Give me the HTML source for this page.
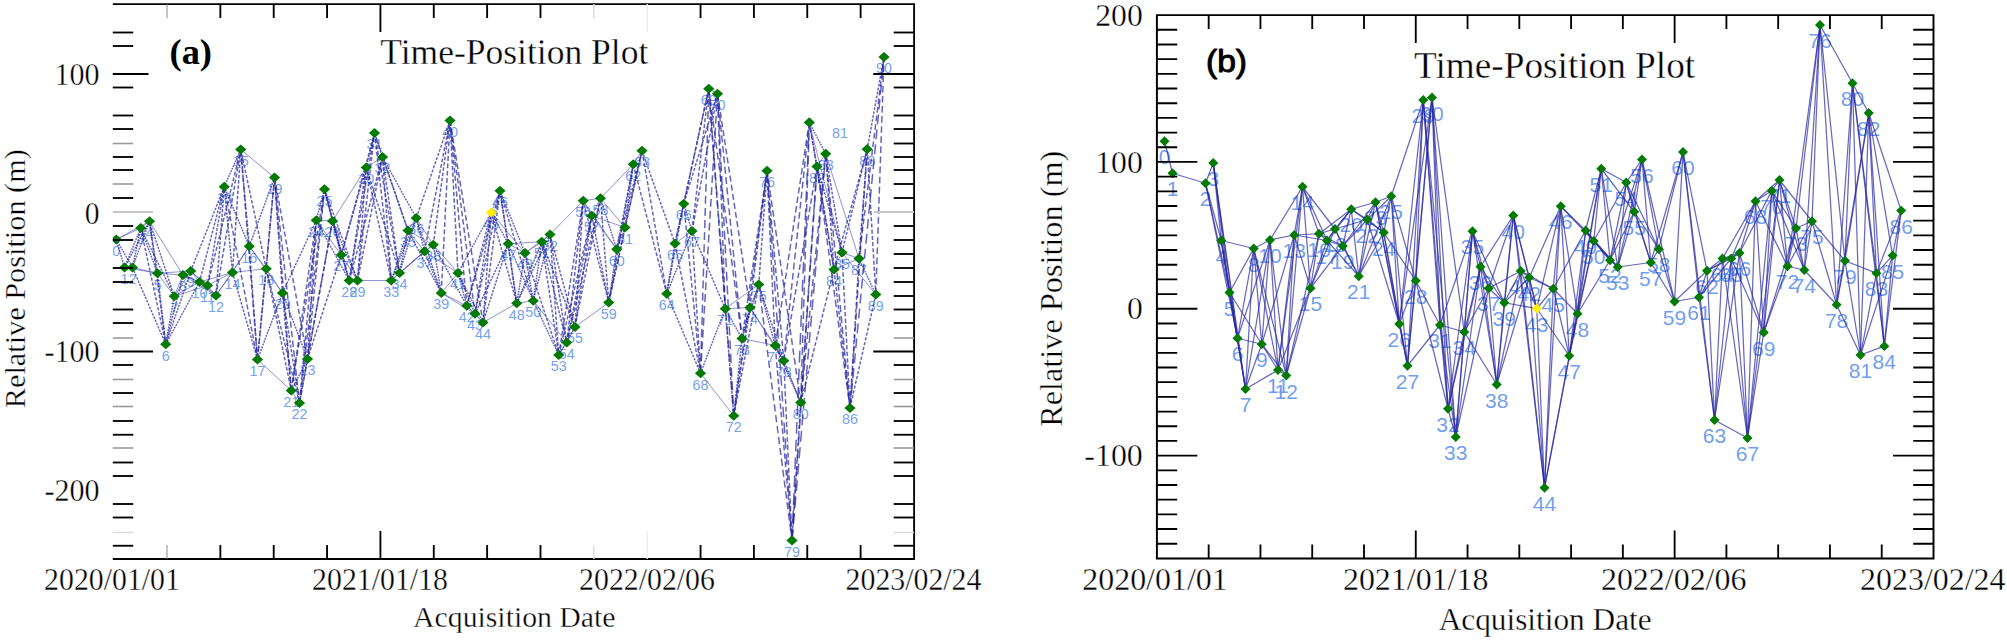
<!DOCTYPE html>
<html lang="en"><head><meta charset="utf-8"><title>Time-Position Plot</title>
<style>html,body{margin:0;padding:0;background:#fff}svg{display:block}.s{font-family:"Liberation Serif","Times New Roman",serif;fill:#000;stroke:#fff;stroke-width:0.35}.n{font-family:"Liberation Sans",Arial,sans-serif;fill:#6495ed}.ax{stroke:#000;stroke-width:1.85;fill:none}.g{stroke:#9a9a9a;stroke-width:1.6}.vg{stroke:#dcdcdc;stroke-width:1.5}.g1{stroke:#8c8c8c;stroke-width:1}.d{fill:#007a00}</style></head><body>
<svg width="2007" height="640" viewBox="0 0 2007 640">
<rect width="2007" height="640" fill="#fff"/>
<g id="panel-a">
<g class="n" font-size="14.3" text-anchor="middle" fill-opacity="0.9">
<text x="116.25" y="255.90">0</text>
<text x="124.5" y="283.90">1</text>
<text x="132.5" y="283.90">2</text>
<text x="140.75" y="244.40">3</text>
<text x="149.5" y="237.65">4</text>
<text x="157.5" y="289.65">5</text>
<text x="165.75" y="360.65">6</text>
<text x="174.25" y="312.65">7</text>
<text x="183" y="291.40">8</text>
<text x="190.75" y="287.40">9</text>
<text x="199.5" y="298.40">10</text>
<text x="207.5" y="301.90">11</text>
<text x="216" y="311.90">12</text>
<text x="224.25" y="203.15">13</text>
<text x="232.5" y="288.90">14</text>
<text x="240.75" y="165.90">15</text>
<text x="249.25" y="262.65">16</text>
<text x="257.5" y="375.90">17</text>
<text x="266.25" y="285.15">18</text>
<text x="274.5" y="193.90">19</text>
<text x="282.5" y="309.40">20</text>
<text x="291.25" y="406.90">21</text>
<text x="299.5" y="419.40">22</text>
<text x="307.5" y="375.40">23</text>
<text x="316.25" y="236.65">24</text>
<text x="324.5" y="205.65">25</text>
<text x="332.5" y="237.40">26</text>
<text x="341.25" y="271.40">27</text>
<text x="349.25" y="296.90">28</text>
<text x="357.5" y="296.90">29</text>
<text x="366.25" y="183.90">30</text>
<text x="374.5" y="149.40">31</text>
<text x="382.5" y="173.40">32</text>
<text x="391.25" y="296.90">33</text>
<text x="399.5" y="289.40">34</text>
<text x="408" y="246.90">35</text>
<text x="416.25" y="234.40">36</text>
<text x="424.5" y="267.65">37</text>
<text x="433.25" y="261.15">38</text>
<text x="441.25" y="309.40">39</text>
<text x="450" y="136.90">40</text>
<text x="458" y="289.40">41</text>
<text x="466.75" y="322.15">42</text>
<text x="475" y="330.15">43</text>
<text x="483" y="338.90">44</text>
<text x="491.25" y="228.90">45</text>
<text x="500" y="207.15">46</text>
<text x="508.25" y="260.15">47</text>
<text x="516.75" y="319.65">48</text>
<text x="525" y="269.40">49</text>
<text x="533.25" y="317.15">50</text>
<text x="541.75" y="258.15">51</text>
<text x="550" y="250.90">52</text>
<text x="558.75" y="371.40">53</text>
<text x="566.75" y="358.90">54</text>
<text x="575" y="343.40">55</text>
<text x="583.25" y="217.15">56</text>
<text x="591.75" y="232.15">57</text>
<text x="600.5" y="214.65">58</text>
<text x="608.75" y="318.90">59</text>
<text x="616.75" y="265.65">60</text>
<text x="625" y="243.90">61</text>
<text x="633.25" y="180.65">62</text>
<text x="642" y="167.15">63</text>
<text x="666.75" y="310.15">64</text>
<text x="675" y="259.90">65</text>
<text x="683.75" y="220.15">66</text>
<text x="692" y="247.40">67</text>
<text x="700.5" y="389.65">68</text>
<text x="708.75" y="105.15">69</text>
<text x="717.5" y="110.15">70</text>
<text x="725.25" y="325.15">71</text>
<text x="733.75" y="432.15">72</text>
<text x="742" y="354.90">73</text>
<text x="750" y="323.90">74</text>
<text x="758.75" y="300.90">75</text>
<text x="767" y="187.15">76</text>
<text x="775.25" y="361.90">77</text>
<text x="783.75" y="377.15">78</text>
<text x="792" y="556.80">79</text>
<text x="800.75" y="418.90">80</text>
<text x="840" y="138">81</text>
<text x="817" y="182.90">82</text>
<text x="825.7" y="170.20">83</text>
<text x="834" y="285.90">84</text>
<text x="842" y="268.90">85</text>
<text x="850" y="424.40">86</text>
<text x="859" y="275.00">87</text>
<text x="867.2" y="165.60">88</text>
<text x="875.8" y="310.90">89</text>
<text x="884" y="73.40">90</text>
</g>
<g stroke="#2828a2" stroke-width="1.35" fill="none" stroke-opacity="0.72">
<line x1="116.25" y1="239.5" x2="124.5" y2="267.5" stroke-width="1.46" stroke-dasharray="1.78 0.92"/>
<line x1="116.25" y1="239.5" x2="132.5" y2="267.5" stroke-width="1.36" stroke-dasharray="1.78 0.92"/>
<line x1="116.25" y1="239.5" x2="140.75" y2="228" stroke-width="1" stroke-opacity="0.5"/>
<line x1="116.25" y1="239.5" x2="149.5" y2="221.25" stroke-width="1" stroke-opacity="0.5"/>
<line x1="124.5" y1="267.5" x2="132.5" y2="267.5" stroke-width="1" stroke-opacity="0.5"/>
<line x1="124.5" y1="267.5" x2="140.75" y2="228" stroke-width="1.42" stroke-dasharray="1.78 0.92"/>
<line x1="124.5" y1="267.5" x2="149.5" y2="221.25" stroke-width="1.38" stroke-dasharray="1.78 0.92"/>
<line x1="124.5" y1="267.5" x2="157.5" y2="273.25" stroke-width="1" stroke-opacity="0.5"/>
<line x1="132.5" y1="267.5" x2="140.75" y2="228" stroke-width="1.48" stroke-dasharray="1.78 0.92"/>
<line x1="132.5" y1="267.5" x2="149.5" y2="221.25" stroke-width="1.43" stroke-dasharray="1.78 0.92"/>
<line x1="132.5" y1="267.5" x2="157.5" y2="273.25" stroke-width="1" stroke-opacity="0.5"/>
<line x1="132.5" y1="267.5" x2="165.75" y2="344.25" stroke-width="1.41" stroke-dasharray="2.35 1.21"/>
<line x1="140.75" y1="228" x2="149.5" y2="221.25" stroke-width="1" stroke-opacity="0.5"/>
<line x1="140.75" y1="228" x2="157.5" y2="273.25" stroke-width="1.43" stroke-dasharray="1.78 0.92"/>
<line x1="140.75" y1="228" x2="165.75" y2="344.25" stroke-width="1.48" stroke-dasharray="3.34 1.72"/>
<line x1="140.75" y1="228" x2="174.25" y2="296.25" stroke-width="1.39" stroke-dasharray="2.14 1.10"/>
<line x1="149.5" y1="221.25" x2="157.5" y2="273.25" stroke-width="1.49" stroke-dasharray="1.78 0.92"/>
<line x1="149.5" y1="221.25" x2="165.75" y2="344.25" stroke-width="1.49" stroke-dasharray="3.48 1.80"/>
<line x1="149.5" y1="221.25" x2="174.25" y2="296.25" stroke-width="1.45" stroke-dasharray="2.22 1.14"/>
<line x1="149.5" y1="221.25" x2="183" y2="275" stroke-width="1" stroke-opacity="0.5"/>
<line x1="157.5" y1="273.25" x2="165.75" y2="344.25" stroke-width="1.49" stroke-dasharray="2.01 1.03"/>
<line x1="157.5" y1="273.25" x2="174.25" y2="296.25" stroke-width="1" stroke-opacity="0.5"/>
<line x1="157.5" y1="273.25" x2="183" y2="275" stroke-width="1" stroke-opacity="0.5"/>
<line x1="157.5" y1="273.25" x2="190.75" y2="271" stroke-width="1" stroke-opacity="0.5"/>
<line x1="165.75" y1="344.25" x2="174.25" y2="296.25" stroke-width="1.48" stroke-dasharray="1.78 0.92"/>
<line x1="165.75" y1="344.25" x2="183" y2="275" stroke-width="1.47" stroke-dasharray="2.00 1.03"/>
<line x1="165.75" y1="344.25" x2="190.75" y2="271" stroke-width="1.44" stroke-dasharray="2.17 1.12"/>
<line x1="165.75" y1="344.25" x2="199.5" y2="282" stroke-width="1.38" stroke-dasharray="1.99 1.02"/>
<line x1="174.25" y1="296.25" x2="183" y2="275" stroke-width="1" stroke-opacity="0.5"/>
<line x1="174.25" y1="296.25" x2="190.75" y2="271" stroke-width="1" stroke-opacity="0.5"/>
<line x1="174.25" y1="296.25" x2="199.5" y2="282" stroke-width="1" stroke-opacity="0.5"/>
<line x1="174.25" y1="296.25" x2="207.5" y2="285.5" stroke-width="1" stroke-opacity="0.5"/>
<line x1="183" y1="275" x2="190.75" y2="271" stroke-width="1" stroke-opacity="0.5"/>
<line x1="183" y1="275" x2="199.5" y2="282" stroke-width="1" stroke-opacity="0.5"/>
<line x1="183" y1="275" x2="207.5" y2="285.5" stroke-width="1" stroke-opacity="0.5"/>
<line x1="183" y1="275" x2="216" y2="295.5" stroke-width="1" stroke-opacity="0.5"/>
<line x1="190.75" y1="271" x2="199.5" y2="282" stroke-width="1" stroke-opacity="0.5"/>
<line x1="190.75" y1="271" x2="207.5" y2="285.5" stroke-width="1" stroke-opacity="0.5"/>
<line x1="190.75" y1="271" x2="216" y2="295.5" stroke-width="1" stroke-opacity="0.5"/>
<line x1="190.75" y1="271" x2="224.25" y2="186.75" stroke-width="1.42" stroke-dasharray="2.55 1.31"/>
<line x1="199.5" y1="282" x2="207.5" y2="285.5" stroke-width="1" stroke-opacity="0.5"/>
<line x1="199.5" y1="282" x2="216" y2="295.5" stroke-width="1" stroke-opacity="0.5"/>
<line x1="199.5" y1="282" x2="224.25" y2="186.75" stroke-width="1.47" stroke-dasharray="2.76 1.42"/>
<line x1="199.5" y1="282" x2="232.5" y2="272.5" stroke-width="1" stroke-opacity="0.5"/>
<line x1="207.5" y1="285.5" x2="216" y2="295.5" stroke-width="1" stroke-opacity="0.5"/>
<line x1="207.5" y1="285.5" x2="224.25" y2="186.75" stroke-width="1.48" stroke-dasharray="2.81 1.45"/>
<line x1="207.5" y1="285.5" x2="232.5" y2="272.5" stroke-width="1" stroke-opacity="0.5"/>
<line x1="207.5" y1="285.5" x2="240.75" y2="149.5" stroke-width="1.47" stroke-dasharray="3.93 2.03"/>
<line x1="216" y1="295.5" x2="224.25" y2="186.75" stroke-width="1.50" stroke-dasharray="3.06 1.58"/>
<line x1="216" y1="295.5" x2="232.5" y2="272.5" stroke-width="1" stroke-opacity="0.5"/>
<line x1="216" y1="295.5" x2="240.75" y2="149.5" stroke-width="1.48" stroke-dasharray="4.16 2.14"/>
<line x1="216" y1="295.5" x2="249.25" y2="246.25" stroke-width="1" stroke-opacity="0.5"/>
<line x1="224.25" y1="186.75" x2="232.5" y2="272.5" stroke-width="1.49" stroke-dasharray="2.42 1.25"/>
<line x1="224.25" y1="186.75" x2="240.75" y2="149.5" stroke-width="1.41" stroke-dasharray="1.78 0.92"/>
<line x1="224.25" y1="186.75" x2="249.25" y2="246.25" stroke-width="1.42" stroke-dasharray="1.81 0.93"/>
<line x1="224.25" y1="186.75" x2="257.5" y2="359.5" stroke-width="1.48" stroke-dasharray="4.94 2.55"/>
<line x1="232.5" y1="272.5" x2="240.75" y2="149.5" stroke-width="1.50" stroke-dasharray="3.46 1.78"/>
<line x1="232.5" y1="272.5" x2="249.25" y2="246.25" stroke-width="1" stroke-opacity="0.5"/>
<line x1="232.5" y1="272.5" x2="257.5" y2="359.5" stroke-width="1.46" stroke-dasharray="2.54 1.31"/>
<line x1="232.5" y1="272.5" x2="266.25" y2="268.75" stroke-width="1" stroke-opacity="0.5"/>
<line x1="240.75" y1="149.5" x2="249.25" y2="246.25" stroke-width="1.50" stroke-dasharray="2.73 1.41"/>
<line x1="240.75" y1="149.5" x2="257.5" y2="359.5" stroke-width="1.50" stroke-dasharray="5.92 3.05"/>
<line x1="240.75" y1="149.5" x2="266.25" y2="268.75" stroke-width="1.48" stroke-dasharray="3.42 1.76"/>
<line x1="240.75" y1="149.5" x2="274.5" y2="177.5" stroke-width="1" stroke-opacity="0.5"/>
<line x1="249.25" y1="246.25" x2="257.5" y2="359.5" stroke-width="1.50" stroke-dasharray="3.19 1.64"/>
<line x1="249.25" y1="246.25" x2="266.25" y2="268.75" stroke-width="1" stroke-opacity="0.5"/>
<line x1="249.25" y1="246.25" x2="274.5" y2="177.5" stroke-width="1.43" stroke-dasharray="2.06 1.06"/>
<line x1="249.25" y1="246.25" x2="282.5" y2="293" stroke-width="1" stroke-opacity="0.5"/>
<line x1="257.5" y1="359.5" x2="266.25" y2="268.75" stroke-width="1.49" stroke-dasharray="2.56 1.32"/>
<line x1="257.5" y1="359.5" x2="274.5" y2="177.5" stroke-width="1.50" stroke-dasharray="5.13 2.64"/>
<line x1="257.5" y1="359.5" x2="282.5" y2="293" stroke-width="1.43" stroke-dasharray="2.00 1.03"/>
<line x1="257.5" y1="359.5" x2="291.25" y2="390.5" stroke-width="1" stroke-opacity="0.5"/>
<line x1="266.25" y1="268.75" x2="274.5" y2="177.5" stroke-width="1.50" stroke-dasharray="2.57 1.33"/>
<line x1="266.25" y1="268.75" x2="282.5" y2="293" stroke-width="1" stroke-opacity="0.5"/>
<line x1="266.25" y1="268.75" x2="291.25" y2="390.5" stroke-width="1.48" stroke-dasharray="3.49 1.80"/>
<line x1="266.25" y1="268.75" x2="299.5" y2="403" stroke-width="1.47" stroke-dasharray="3.88 2.00"/>
<line x1="274.5" y1="177.5" x2="282.5" y2="293" stroke-width="1.50" stroke-dasharray="3.25 1.68"/>
<line x1="274.5" y1="177.5" x2="291.25" y2="390.5" stroke-width="1.50" stroke-dasharray="6.00 3.09"/>
<line x1="274.5" y1="177.5" x2="299.5" y2="403" stroke-width="1.49" stroke-dasharray="6.37 3.28"/>
<line x1="274.5" y1="177.5" x2="307.5" y2="359" stroke-width="1.48" stroke-dasharray="5.18 2.67"/>
<line x1="282.5" y1="293" x2="291.25" y2="390.5" stroke-width="1.50" stroke-dasharray="2.75 1.42"/>
<line x1="282.5" y1="293" x2="299.5" y2="403" stroke-width="1.49" stroke-dasharray="3.13 1.61"/>
<line x1="282.5" y1="293" x2="307.5" y2="359" stroke-width="1.43" stroke-dasharray="1.98 1.02"/>
<line x1="282.5" y1="293" x2="316.25" y2="220.25" stroke-width="1.40" stroke-dasharray="2.25 1.16"/>
<line x1="291.25" y1="390.5" x2="299.5" y2="403" stroke-width="1" stroke-opacity="0.5"/>
<line x1="291.25" y1="390.5" x2="307.5" y2="359" stroke-width="1.38" stroke-dasharray="1.78 0.92"/>
<line x1="291.25" y1="390.5" x2="316.25" y2="220.25" stroke-width="1.49" stroke-dasharray="4.83 2.49"/>
<line x1="291.25" y1="390.5" x2="324.5" y2="189.25" stroke-width="1.49" stroke-dasharray="5.73 2.95"/>
<line x1="299.5" y1="403" x2="307.5" y2="359" stroke-width="1.48" stroke-dasharray="1.78 0.92"/>
<line x1="299.5" y1="403" x2="316.25" y2="220.25" stroke-width="1.50" stroke-dasharray="5.15 2.66"/>
<line x1="299.5" y1="403" x2="324.5" y2="189.25" stroke-width="1.49" stroke-dasharray="6.04 3.11"/>
<line x1="299.5" y1="403" x2="332.5" y2="221" stroke-width="1.48" stroke-dasharray="5.19 2.68"/>
<line x1="307.5" y1="359" x2="316.25" y2="220.25" stroke-width="1.50" stroke-dasharray="3.90 2.01"/>
<line x1="307.5" y1="359" x2="324.5" y2="189.25" stroke-width="1.49" stroke-dasharray="4.79 2.47"/>
<line x1="307.5" y1="359" x2="332.5" y2="221" stroke-width="1.48" stroke-dasharray="3.94 2.03"/>
<line x1="307.5" y1="359" x2="341.25" y2="255" stroke-width="1.45" stroke-dasharray="3.07 1.58"/>
<line x1="316.25" y1="220.25" x2="324.5" y2="189.25" stroke-width="1.46" stroke-dasharray="1.78 0.92"/>
<line x1="316.25" y1="220.25" x2="332.5" y2="221" stroke-width="1" stroke-opacity="0.5"/>
<line x1="316.25" y1="220.25" x2="341.25" y2="255" stroke-width="1" stroke-opacity="0.5"/>
<line x1="316.25" y1="220.25" x2="349.25" y2="280.5" stroke-width="1.37" stroke-dasharray="1.93 0.99"/>
<line x1="324.5" y1="189.25" x2="332.5" y2="221" stroke-width="1.47" stroke-dasharray="1.78 0.92"/>
<line x1="324.5" y1="189.25" x2="341.25" y2="255" stroke-width="1.47" stroke-dasharray="1.91 0.98"/>
<line x1="324.5" y1="189.25" x2="349.25" y2="280.5" stroke-width="1.46" stroke-dasharray="2.66 1.37"/>
<line x1="324.5" y1="189.25" x2="357.5" y2="280.5" stroke-width="1.44" stroke-dasharray="2.73 1.40"/>
<line x1="332.5" y1="221" x2="341.25" y2="255" stroke-width="1.47" stroke-dasharray="1.78 0.92"/>
<line x1="332.5" y1="221" x2="349.25" y2="280.5" stroke-width="1.46" stroke-dasharray="1.78 0.92"/>
<line x1="332.5" y1="221" x2="357.5" y2="280.5" stroke-width="1.42" stroke-dasharray="1.81 0.93"/>
<line x1="332.5" y1="221" x2="366.25" y2="167.5" stroke-width="1" stroke-opacity="0.5"/>
<line x1="341.25" y1="255" x2="349.25" y2="280.5" stroke-width="1" stroke-opacity="0.5"/>
<line x1="341.25" y1="255" x2="357.5" y2="280.5" stroke-width="1" stroke-opacity="0.5"/>
<line x1="341.25" y1="255" x2="366.25" y2="167.5" stroke-width="1.46" stroke-dasharray="2.56 1.32"/>
<line x1="341.25" y1="255" x2="374.5" y2="133" stroke-width="1.46" stroke-dasharray="3.55 1.83"/>
<line x1="349.25" y1="280.5" x2="357.5" y2="280.5" stroke-width="1" stroke-opacity="0.5"/>
<line x1="349.25" y1="280.5" x2="366.25" y2="167.5" stroke-width="1.49" stroke-dasharray="3.21 1.65"/>
<line x1="349.25" y1="280.5" x2="374.5" y2="133" stroke-width="1.48" stroke-dasharray="4.20 2.17"/>
<line x1="349.25" y1="280.5" x2="382.5" y2="157" stroke-width="1.46" stroke-dasharray="3.59 1.85"/>
<line x1="357.5" y1="280.5" x2="366.25" y2="167.5" stroke-width="1.50" stroke-dasharray="3.18 1.64"/>
<line x1="357.5" y1="280.5" x2="374.5" y2="133" stroke-width="1.49" stroke-dasharray="4.17 2.15"/>
<line x1="357.5" y1="280.5" x2="382.5" y2="157" stroke-width="1.48" stroke-dasharray="3.54 1.82"/>
<line x1="357.5" y1="280.5" x2="391.25" y2="280.5" stroke-width="1" stroke-opacity="0.5"/>
<line x1="366.25" y1="167.5" x2="374.5" y2="133" stroke-width="1.47" stroke-dasharray="1.78 0.92"/>
<line x1="366.25" y1="167.5" x2="382.5" y2="157" stroke-width="1" stroke-opacity="0.5"/>
<line x1="366.25" y1="167.5" x2="391.25" y2="280.5" stroke-width="1.47" stroke-dasharray="3.25 1.67"/>
<line x1="366.25" y1="167.5" x2="399.5" y2="273" stroke-width="1.45" stroke-dasharray="3.11 1.60"/>
<line x1="374.5" y1="133" x2="382.5" y2="157" stroke-width="1" stroke-opacity="0.5"/>
<line x1="374.5" y1="133" x2="391.25" y2="280.5" stroke-width="1.49" stroke-dasharray="4.17 2.15"/>
<line x1="374.5" y1="133" x2="399.5" y2="273" stroke-width="1.48" stroke-dasharray="3.99 2.06"/>
<line x1="374.5" y1="133" x2="408" y2="230.5" stroke-width="1.44" stroke-dasharray="2.90 1.49"/>
<line x1="382.5" y1="157" x2="391.25" y2="280.5" stroke-width="1.50" stroke-dasharray="3.48 1.79"/>
<line x1="382.5" y1="157" x2="399.5" y2="273" stroke-width="1.49" stroke-dasharray="3.29 1.70"/>
<line x1="382.5" y1="157" x2="408" y2="230.5" stroke-width="1.44" stroke-dasharray="2.18 1.13"/>
<line x1="382.5" y1="157" x2="416.25" y2="218" stroke-width="1.37" stroke-dasharray="1.96 1.01"/>
<line x1="391.25" y1="280.5" x2="399.5" y2="273" stroke-width="1" stroke-opacity="0.5"/>
<line x1="391.25" y1="280.5" x2="408" y2="230.5" stroke-width="1.44" stroke-dasharray="1.78 0.92"/>
<line x1="391.25" y1="280.5" x2="416.25" y2="218" stroke-width="1.42" stroke-dasharray="1.89 0.97"/>
<line x1="391.25" y1="280.5" x2="424.5" y2="251.25" stroke-width="1" stroke-opacity="0.5"/>
<line x1="399.5" y1="273" x2="408" y2="230.5" stroke-width="1.48" stroke-dasharray="1.78 0.92"/>
<line x1="399.5" y1="273" x2="416.25" y2="218" stroke-width="1.45" stroke-dasharray="1.78 0.92"/>
<line x1="399.5" y1="273" x2="424.5" y2="251.25" stroke-width="1" stroke-opacity="0.5"/>
<line x1="399.5" y1="273" x2="433.25" y2="244.75" stroke-width="1" stroke-opacity="0.5"/>
<line x1="408" y1="230.5" x2="416.25" y2="218" stroke-width="1" stroke-opacity="0.5"/>
<line x1="408" y1="230.5" x2="424.5" y2="251.25" stroke-width="1" stroke-opacity="0.5"/>
<line x1="408" y1="230.5" x2="433.25" y2="244.75" stroke-width="1" stroke-opacity="0.5"/>
<line x1="408" y1="230.5" x2="441.25" y2="293" stroke-width="1.38" stroke-dasharray="1.99 1.02"/>
<line x1="416.25" y1="218" x2="424.5" y2="251.25" stroke-width="1.47" stroke-dasharray="1.78 0.92"/>
<line x1="416.25" y1="218" x2="433.25" y2="244.75" stroke-width="1" stroke-opacity="0.5"/>
<line x1="416.25" y1="218" x2="441.25" y2="293" stroke-width="1.44" stroke-dasharray="2.22 1.14"/>
<line x1="416.25" y1="218" x2="450" y2="120.5" stroke-width="1.44" stroke-dasharray="2.90 1.49"/>
<line x1="424.5" y1="251.25" x2="433.25" y2="244.75" stroke-width="1" stroke-opacity="0.5"/>
<line x1="424.5" y1="251.25" x2="441.25" y2="293" stroke-width="1.42" stroke-dasharray="1.78 0.92"/>
<line x1="424.5" y1="251.25" x2="450" y2="120.5" stroke-width="1.48" stroke-dasharray="3.74 1.93"/>
<line x1="424.5" y1="251.25" x2="458" y2="273" stroke-width="1" stroke-opacity="0.5"/>
<line x1="433.25" y1="244.75" x2="441.25" y2="293" stroke-width="1.49" stroke-dasharray="1.78 0.92"/>
<line x1="433.25" y1="244.75" x2="450" y2="120.5" stroke-width="1.49" stroke-dasharray="3.52 1.81"/>
<line x1="433.25" y1="244.75" x2="458" y2="273" stroke-width="1" stroke-opacity="0.5"/>
<line x1="433.25" y1="244.75" x2="466.75" y2="305.75" stroke-width="1.37" stroke-dasharray="1.95 1.01"/>
<line x1="441.25" y1="293" x2="450" y2="120.5" stroke-width="1.50" stroke-dasharray="4.85 2.50"/>
<line x1="441.25" y1="293" x2="458" y2="273" stroke-width="1" stroke-opacity="0.5"/>
<line x1="441.25" y1="293" x2="466.75" y2="305.75" stroke-width="1" stroke-opacity="0.5"/>
<line x1="441.25" y1="293" x2="475" y2="313.75" stroke-width="1" stroke-opacity="0.5"/>
<line x1="450" y1="120.5" x2="458" y2="273" stroke-width="1.50" stroke-dasharray="4.29 2.21"/>
<line x1="450" y1="120.5" x2="466.75" y2="305.75" stroke-width="1.50" stroke-dasharray="5.22 2.69"/>
<line x1="450" y1="120.5" x2="475" y2="313.75" stroke-width="1.49" stroke-dasharray="5.47 2.82"/>
<line x1="450" y1="120.5" x2="483" y2="322.5" stroke-width="1.49" stroke-dasharray="5.75 2.96"/>
<line x1="458" y1="273" x2="466.75" y2="305.75" stroke-width="1.46" stroke-dasharray="1.78 0.92"/>
<line x1="458" y1="273" x2="475" y2="313.75" stroke-width="1.42" stroke-dasharray="1.78 0.92"/>
<line x1="458" y1="273" x2="483" y2="322.5" stroke-width="1.39" stroke-dasharray="1.78 0.92"/>
<line x1="458" y1="273" x2="491.25" y2="212.5" stroke-width="1.37" stroke-dasharray="1.94 1.00"/>
<line x1="466.75" y1="305.75" x2="475" y2="313.75" stroke-width="1" stroke-opacity="0.5"/>
<line x1="466.75" y1="305.75" x2="483" y2="322.5" stroke-width="1" stroke-opacity="0.5"/>
<line x1="466.75" y1="305.75" x2="491.25" y2="212.5" stroke-width="1.46" stroke-dasharray="2.71 1.39"/>
<line x1="466.75" y1="305.75" x2="500" y2="190.75" stroke-width="1.46" stroke-dasharray="3.36 1.73"/>
<line x1="475" y1="313.75" x2="483" y2="322.5" stroke-width="1" stroke-opacity="0.5"/>
<line x1="475" y1="313.75" x2="491.25" y2="212.5" stroke-width="1.49" stroke-dasharray="2.88 1.48"/>
<line x1="475" y1="313.75" x2="500" y2="190.75" stroke-width="1.48" stroke-dasharray="3.53 1.82"/>
<line x1="475" y1="313.75" x2="508.25" y2="243.75" stroke-width="1.40" stroke-dasharray="2.18 1.12"/>
<line x1="483" y1="322.5" x2="491.25" y2="212.5" stroke-width="1.50" stroke-dasharray="3.10 1.60"/>
<line x1="483" y1="322.5" x2="500" y2="190.75" stroke-width="1.49" stroke-dasharray="3.73 1.92"/>
<line x1="483" y1="322.5" x2="508.25" y2="243.75" stroke-width="1.45" stroke-dasharray="2.32 1.20"/>
<line x1="483" y1="322.5" x2="516.75" y2="303.25" stroke-width="1" stroke-opacity="0.5"/>
<line x1="491.25" y1="212.5" x2="500" y2="190.75" stroke-width="1" stroke-opacity="0.5"/>
<line x1="491.25" y1="212.5" x2="508.25" y2="243.75" stroke-width="1.37" stroke-dasharray="1.78 0.92"/>
<line x1="491.25" y1="212.5" x2="516.75" y2="303.25" stroke-width="1.46" stroke-dasharray="2.65 1.36"/>
<line x1="491.25" y1="212.5" x2="525" y2="253" stroke-width="1" stroke-opacity="0.5"/>
<line x1="500" y1="190.75" x2="508.25" y2="243.75" stroke-width="1.49" stroke-dasharray="1.78 0.92"/>
<line x1="500" y1="190.75" x2="516.75" y2="303.25" stroke-width="1.49" stroke-dasharray="3.19 1.65"/>
<line x1="500" y1="190.75" x2="525" y2="253" stroke-width="1.42" stroke-dasharray="1.88 0.97"/>
<line x1="500" y1="190.75" x2="533.25" y2="300.75" stroke-width="1.45" stroke-dasharray="3.23 1.66"/>
<line x1="508.25" y1="243.75" x2="516.75" y2="303.25" stroke-width="1.49" stroke-dasharray="1.78 0.92"/>
<line x1="508.25" y1="243.75" x2="525" y2="253" stroke-width="1" stroke-opacity="0.5"/>
<line x1="508.25" y1="243.75" x2="533.25" y2="300.75" stroke-width="1.41" stroke-dasharray="1.78 0.92"/>
<line x1="508.25" y1="243.75" x2="541.75" y2="241.75" stroke-width="1" stroke-opacity="0.5"/>
<line x1="516.75" y1="303.25" x2="525" y2="253" stroke-width="1.49" stroke-dasharray="1.78 0.92"/>
<line x1="516.75" y1="303.25" x2="533.25" y2="300.75" stroke-width="1" stroke-opacity="0.5"/>
<line x1="516.75" y1="303.25" x2="541.75" y2="241.75" stroke-width="1.42" stroke-dasharray="1.86 0.96"/>
<line x1="516.75" y1="303.25" x2="550" y2="234.5" stroke-width="1.40" stroke-dasharray="2.14 1.10"/>
<line x1="525" y1="253" x2="533.25" y2="300.75" stroke-width="1.48" stroke-dasharray="1.78 0.92"/>
<line x1="525" y1="253" x2="541.75" y2="241.75" stroke-width="1" stroke-opacity="0.5"/>
<line x1="525" y1="253" x2="550" y2="234.5" stroke-width="1" stroke-opacity="0.5"/>
<line x1="525" y1="253" x2="558.75" y2="355" stroke-width="1.45" stroke-dasharray="3.02 1.55"/>
<line x1="533.25" y1="300.75" x2="541.75" y2="241.75" stroke-width="1.49" stroke-dasharray="1.78 0.92"/>
<line x1="533.25" y1="300.75" x2="550" y2="234.5" stroke-width="1.47" stroke-dasharray="1.92 0.99"/>
<line x1="533.25" y1="300.75" x2="558.75" y2="355" stroke-width="1.40" stroke-dasharray="1.78 0.92"/>
<line x1="533.25" y1="300.75" x2="566.75" y2="342.5" stroke-width="1" stroke-opacity="0.5"/>
<line x1="541.75" y1="241.75" x2="550" y2="234.5" stroke-width="1" stroke-opacity="0.5"/>
<line x1="541.75" y1="241.75" x2="558.75" y2="355" stroke-width="1.49" stroke-dasharray="3.22 1.66"/>
<line x1="541.75" y1="241.75" x2="566.75" y2="342.5" stroke-width="1.47" stroke-dasharray="2.92 1.50"/>
<line x1="541.75" y1="241.75" x2="575" y2="327" stroke-width="1.43" stroke-dasharray="2.57 1.32"/>
<line x1="550" y1="234.5" x2="558.75" y2="355" stroke-width="1.50" stroke-dasharray="3.39 1.75"/>
<line x1="550" y1="234.5" x2="566.75" y2="342.5" stroke-width="1.49" stroke-dasharray="3.07 1.58"/>
<line x1="550" y1="234.5" x2="575" y2="327" stroke-width="1.46" stroke-dasharray="2.69 1.39"/>
<line x1="550" y1="234.5" x2="583.25" y2="200.75" stroke-width="1" stroke-opacity="0.5"/>
<line x1="558.75" y1="355" x2="566.75" y2="342.5" stroke-width="1" stroke-opacity="0.5"/>
<line x1="558.75" y1="355" x2="575" y2="327" stroke-width="1.36" stroke-dasharray="1.78 0.92"/>
<line x1="558.75" y1="355" x2="583.25" y2="200.75" stroke-width="1.49" stroke-dasharray="4.39 2.26"/>
<line x1="558.75" y1="355" x2="591.75" y2="215.75" stroke-width="1.47" stroke-dasharray="4.02 2.07"/>
<line x1="566.75" y1="342.5" x2="575" y2="327" stroke-width="1" stroke-opacity="0.5"/>
<line x1="566.75" y1="342.5" x2="583.25" y2="200.75" stroke-width="1.49" stroke-dasharray="4.01 2.06"/>
<line x1="566.75" y1="342.5" x2="591.75" y2="215.75" stroke-width="1.48" stroke-dasharray="3.63 1.87"/>
<line x1="566.75" y1="342.5" x2="600.5" y2="198.25" stroke-width="1.47" stroke-dasharray="4.16 2.14"/>
<line x1="575" y1="327" x2="583.25" y2="200.75" stroke-width="1.50" stroke-dasharray="3.55 1.83"/>
<line x1="575" y1="327" x2="591.75" y2="215.75" stroke-width="1.49" stroke-dasharray="3.16 1.63"/>
<line x1="575" y1="327" x2="600.5" y2="198.25" stroke-width="1.48" stroke-dasharray="3.69 1.90"/>
<line x1="575" y1="327" x2="608.75" y2="302.5" stroke-width="1" stroke-opacity="0.5"/>
<line x1="583.25" y1="200.75" x2="591.75" y2="215.75" stroke-width="1" stroke-opacity="0.5"/>
<line x1="583.25" y1="200.75" x2="600.5" y2="198.25" stroke-width="1" stroke-opacity="0.5"/>
<line x1="583.25" y1="200.75" x2="608.75" y2="302.5" stroke-width="1.47" stroke-dasharray="2.95 1.52"/>
<line x1="583.25" y1="200.75" x2="616.75" y2="249.25" stroke-width="1" stroke-opacity="0.5"/>
<line x1="591.75" y1="215.75" x2="600.5" y2="198.25" stroke-width="1" stroke-opacity="0.5"/>
<line x1="591.75" y1="215.75" x2="608.75" y2="302.5" stroke-width="1.48" stroke-dasharray="2.48 1.28"/>
<line x1="591.75" y1="215.75" x2="616.75" y2="249.25" stroke-width="1" stroke-opacity="0.5"/>
<line x1="591.75" y1="215.75" x2="625" y2="227.5" stroke-width="1" stroke-opacity="0.5"/>
<line x1="600.5" y1="198.25" x2="608.75" y2="302.5" stroke-width="1.50" stroke-dasharray="2.94 1.51"/>
<line x1="600.5" y1="198.25" x2="616.75" y2="249.25" stroke-width="1.45" stroke-dasharray="1.78 0.92"/>
<line x1="600.5" y1="198.25" x2="625" y2="227.5" stroke-width="1" stroke-opacity="0.5"/>
<line x1="600.5" y1="198.25" x2="633.25" y2="164.25" stroke-width="1" stroke-opacity="0.5"/>
<line x1="608.75" y1="302.5" x2="616.75" y2="249.25" stroke-width="1.49" stroke-dasharray="1.78 0.92"/>
<line x1="608.75" y1="302.5" x2="625" y2="227.5" stroke-width="1.48" stroke-dasharray="2.16 1.11"/>
<line x1="608.75" y1="302.5" x2="633.25" y2="164.25" stroke-width="1.48" stroke-dasharray="3.94 2.03"/>
<line x1="608.75" y1="302.5" x2="642" y2="150.75" stroke-width="1.47" stroke-dasharray="4.36 2.25"/>
<line x1="616.75" y1="249.25" x2="625" y2="227.5" stroke-width="1" stroke-opacity="0.5"/>
<line x1="616.75" y1="249.25" x2="633.25" y2="164.25" stroke-width="1.48" stroke-dasharray="2.43 1.25"/>
<line x1="616.75" y1="249.25" x2="642" y2="150.75" stroke-width="1.47" stroke-dasharray="2.86 1.47"/>
<line x1="625" y1="227.5" x2="633.25" y2="164.25" stroke-width="1.49" stroke-dasharray="1.79 0.92"/>
<line x1="625" y1="227.5" x2="642" y2="150.75" stroke-width="1.47" stroke-dasharray="2.21 1.14"/>
<line x1="633.25" y1="164.25" x2="642" y2="150.75" stroke-width="1" stroke-opacity="0.5"/>
<line x1="633.25" y1="164.25" x2="666.75" y2="293.75" stroke-width="1.47" stroke-dasharray="3.76 1.94"/>
<line x1="642" y1="150.75" x2="666.75" y2="293.75" stroke-width="1.48" stroke-dasharray="4.08 2.10"/>
<line x1="642" y1="150.75" x2="675" y2="243.5" stroke-width="1.44" stroke-dasharray="2.76 1.42"/>
<line x1="666.75" y1="293.75" x2="675" y2="243.5" stroke-width="1.49" stroke-dasharray="1.78 0.92"/>
<line x1="666.75" y1="293.75" x2="683.75" y2="203.75" stroke-width="1.48" stroke-dasharray="2.57 1.33"/>
<line x1="666.75" y1="293.75" x2="692" y2="231" stroke-width="1.42" stroke-dasharray="1.90 0.98"/>
<line x1="666.75" y1="293.75" x2="700.5" y2="373.25" stroke-width="1.42" stroke-dasharray="2.43 1.25"/>
<line x1="675" y1="243.5" x2="683.75" y2="203.75" stroke-width="1.47" stroke-dasharray="1.78 0.92"/>
<line x1="675" y1="243.5" x2="692" y2="231" stroke-width="1" stroke-opacity="0.5"/>
<line x1="675" y1="243.5" x2="700.5" y2="373.25" stroke-width="1.48" stroke-dasharray="3.71 1.91"/>
<line x1="675" y1="243.5" x2="708.75" y2="88.75" stroke-width="1.48" stroke-dasharray="4.45 2.29"/>
<line x1="683.75" y1="203.75" x2="692" y2="231" stroke-width="1.45" stroke-dasharray="1.78 0.92"/>
<line x1="683.75" y1="203.75" x2="700.5" y2="373.25" stroke-width="1.49" stroke-dasharray="4.78 2.46"/>
<line x1="683.75" y1="203.75" x2="708.75" y2="88.75" stroke-width="1.48" stroke-dasharray="3.31 1.70"/>
<line x1="683.75" y1="203.75" x2="717.5" y2="93.75" stroke-width="1.45" stroke-dasharray="3.23 1.66"/>
<line x1="692" y1="231" x2="700.5" y2="373.25" stroke-width="1.50" stroke-dasharray="4.00 2.06"/>
<line x1="692" y1="231" x2="708.75" y2="88.75" stroke-width="1.49" stroke-dasharray="4.02 2.07"/>
<line x1="692" y1="231" x2="717.5" y2="93.75" stroke-width="1.48" stroke-dasharray="3.92 2.02"/>
<line x1="692" y1="231" x2="725.25" y2="308.75" stroke-width="1.41" stroke-dasharray="2.37 1.22"/>
<line x1="700.5" y1="373.25" x2="708.75" y2="88.75" stroke-width="1.50" stroke-dasharray="7.99 4.12"/>
<line x1="700.5" y1="373.25" x2="717.5" y2="93.75" stroke-width="1.50" stroke-dasharray="7.86 4.05"/>
<line x1="700.5" y1="373.25" x2="725.25" y2="308.75" stroke-width="1.43" stroke-dasharray="1.94 1.00"/>
<line x1="700.5" y1="373.25" x2="733.75" y2="415.75" stroke-width="1" stroke-opacity="0.5"/>
<line x1="708.75" y1="88.75" x2="717.5" y2="93.75" stroke-width="1" stroke-opacity="0.5"/>
<line x1="708.75" y1="88.75" x2="725.25" y2="308.75" stroke-width="1.50" stroke-dasharray="6.20 3.19"/>
<line x1="708.75" y1="88.75" x2="733.75" y2="415.75" stroke-width="1.50" stroke-dasharray="9.21 4.74"/>
<line x1="708.75" y1="88.75" x2="742" y2="338.5" stroke-width="1.49" stroke-dasharray="7.08 3.65"/>
<line x1="717.5" y1="93.75" x2="725.25" y2="308.75" stroke-width="1.50" stroke-dasharray="6.04 3.11"/>
<line x1="717.5" y1="93.75" x2="733.75" y2="415.75" stroke-width="1.50" stroke-dasharray="9.05 4.66"/>
<line x1="717.5" y1="93.75" x2="742" y2="338.5" stroke-width="1.49" stroke-dasharray="6.91 3.56"/>
<line x1="717.5" y1="93.75" x2="750" y2="307.5" stroke-width="1.49" stroke-dasharray="6.07 3.13"/>
<line x1="725.25" y1="308.75" x2="733.75" y2="415.75" stroke-width="1.50" stroke-dasharray="3.01 1.55"/>
<line x1="725.25" y1="308.75" x2="742" y2="338.5" stroke-width="1.37" stroke-dasharray="1.78 0.92"/>
<line x1="725.25" y1="308.75" x2="750" y2="307.5" stroke-width="1" stroke-opacity="0.5"/>
<line x1="725.25" y1="308.75" x2="758.75" y2="284.5" stroke-width="1" stroke-opacity="0.5"/>
<line x1="733.75" y1="415.75" x2="742" y2="338.5" stroke-width="1.49" stroke-dasharray="2.18 1.12"/>
<line x1="733.75" y1="415.75" x2="750" y2="307.5" stroke-width="1.49" stroke-dasharray="3.07 1.58"/>
<line x1="733.75" y1="415.75" x2="758.75" y2="284.5" stroke-width="1.48" stroke-dasharray="3.75 1.93"/>
<line x1="733.75" y1="415.75" x2="767" y2="170.75" stroke-width="1.49" stroke-dasharray="6.94 3.58"/>
<line x1="742" y1="338.5" x2="750" y2="307.5" stroke-width="1.47" stroke-dasharray="1.78 0.92"/>
<line x1="742" y1="338.5" x2="758.75" y2="284.5" stroke-width="1.45" stroke-dasharray="1.78 0.92"/>
<line x1="742" y1="338.5" x2="767" y2="170.75" stroke-width="1.49" stroke-dasharray="4.76 2.45"/>
<line x1="742" y1="338.5" x2="775.25" y2="345.5" stroke-width="1" stroke-opacity="0.5"/>
<line x1="750" y1="307.5" x2="758.75" y2="284.5" stroke-width="1" stroke-opacity="0.5"/>
<line x1="750" y1="307.5" x2="767" y2="170.75" stroke-width="1.49" stroke-dasharray="3.87 1.99"/>
<line x1="750" y1="307.5" x2="775.25" y2="345.5" stroke-width="1" stroke-opacity="0.5"/>
<line x1="750" y1="307.5" x2="783.75" y2="360.75" stroke-width="1" stroke-opacity="0.5"/>
<line x1="758.75" y1="284.5" x2="767" y2="170.75" stroke-width="1.50" stroke-dasharray="3.20 1.65"/>
<line x1="758.75" y1="284.5" x2="775.25" y2="345.5" stroke-width="1.46" stroke-dasharray="1.78 0.92"/>
<line x1="758.75" y1="284.5" x2="783.75" y2="360.75" stroke-width="1.45" stroke-dasharray="2.25 1.16"/>
<line x1="758.75" y1="284.5" x2="792" y2="540.4" stroke-width="1.49" stroke-dasharray="7.25 3.73"/>
<line x1="767" y1="170.75" x2="775.25" y2="345.5" stroke-width="1.50" stroke-dasharray="4.91 2.53"/>
<line x1="767" y1="170.75" x2="783.75" y2="360.75" stroke-width="1.50" stroke-dasharray="5.36 2.76"/>
<line x1="767" y1="170.75" x2="792" y2="540.4" stroke-width="1.50" stroke-dasharray="10.41 5.36"/>
<line x1="767" y1="170.75" x2="800.75" y2="402.5" stroke-width="1.49" stroke-dasharray="6.58 3.39"/>
<line x1="775.25" y1="345.5" x2="783.75" y2="360.75" stroke-width="1" stroke-opacity="0.5"/>
<line x1="775.25" y1="345.5" x2="792" y2="540.4" stroke-width="1.50" stroke-dasharray="5.49 2.83"/>
<line x1="775.25" y1="345.5" x2="800.75" y2="402.5" stroke-width="1.41" stroke-dasharray="1.78 0.92"/>
<line x1="775.25" y1="345.5" x2="809.3" y2="122.4" stroke-width="1.49" stroke-dasharray="6.34 3.27"/>
<line x1="783.75" y1="360.75" x2="792" y2="540.4" stroke-width="1.50" stroke-dasharray="5.05 2.60"/>
<line x1="783.75" y1="360.75" x2="800.75" y2="402.5" stroke-width="1.42" stroke-dasharray="1.78 0.92"/>
<line x1="783.75" y1="360.75" x2="809.3" y2="122.4" stroke-width="1.49" stroke-dasharray="6.73 3.47"/>
<line x1="783.75" y1="360.75" x2="817" y2="166.5" stroke-width="1.48" stroke-dasharray="5.53 2.85"/>
<line x1="792" y1="540.4" x2="800.75" y2="402.5" stroke-width="1.50" stroke-dasharray="3.88 2.00"/>
<line x1="792" y1="540.4" x2="809.3" y2="122.4" stroke-width="1.50" stroke-dasharray="11.75 6.05"/>
<line x1="792" y1="540.4" x2="817" y2="166.5" stroke-width="1.50" stroke-dasharray="10.52 5.42"/>
<line x1="792" y1="540.4" x2="825.7" y2="153.8" stroke-width="1.50" stroke-dasharray="10.90 5.61"/>
<line x1="800.75" y1="402.5" x2="809.3" y2="122.4" stroke-width="1.50" stroke-dasharray="7.87 4.05"/>
<line x1="800.75" y1="402.5" x2="817" y2="166.5" stroke-width="1.50" stroke-dasharray="6.64 3.42"/>
<line x1="800.75" y1="402.5" x2="825.7" y2="153.8" stroke-width="1.49" stroke-dasharray="7.02 3.62"/>
<line x1="800.75" y1="402.5" x2="834" y2="269.5" stroke-width="1.47" stroke-dasharray="3.85 1.98"/>
<line x1="809.3" y1="122.4" x2="817" y2="166.5" stroke-width="1.48" stroke-dasharray="1.78 0.92"/>
<line x1="809.3" y1="122.4" x2="825.7" y2="153.8" stroke-width="1.38" stroke-dasharray="1.78 0.92"/>
<line x1="809.3" y1="122.4" x2="834" y2="269.5" stroke-width="1.48" stroke-dasharray="4.19 2.16"/>
<line x1="809.3" y1="122.4" x2="842" y2="252.5" stroke-width="1" stroke-opacity="0.5"/>
<line x1="817" y1="166.5" x2="825.7" y2="153.8" stroke-width="1" stroke-opacity="0.5"/>
<line x1="817" y1="166.5" x2="834" y2="269.5" stroke-width="1.49" stroke-dasharray="2.93 1.51"/>
<line x1="817" y1="166.5" x2="842" y2="252.5" stroke-width="1.46" stroke-dasharray="2.52 1.30"/>
<line x1="817" y1="166.5" x2="850" y2="408" stroke-width="1.49" stroke-dasharray="6.85 3.53"/>
<line x1="825.7" y1="153.8" x2="834" y2="269.5" stroke-width="1.50" stroke-dasharray="3.26 1.68"/>
<line x1="825.7" y1="153.8" x2="842" y2="252.5" stroke-width="1.49" stroke-dasharray="2.81 1.45"/>
<line x1="825.7" y1="153.8" x2="850" y2="408" stroke-width="1.50" stroke-dasharray="7.17 3.69"/>
<line x1="825.7" y1="153.8" x2="859" y2="258.6" stroke-width="1" stroke-opacity="0.5"/>
<line x1="834" y1="269.5" x2="842" y2="252.5" stroke-width="1" stroke-opacity="0.5"/>
<line x1="834" y1="269.5" x2="850" y2="408" stroke-width="1.49" stroke-dasharray="3.92 2.02"/>
<line x1="834" y1="269.5" x2="859" y2="258.6" stroke-width="1" stroke-opacity="0.5"/>
<line x1="834" y1="269.5" x2="867.2" y2="149.2" stroke-width="1.46" stroke-dasharray="3.50 1.81"/>
<line x1="842" y1="252.5" x2="850" y2="408" stroke-width="1.50" stroke-dasharray="4.37 2.25"/>
<line x1="842" y1="252.5" x2="859" y2="258.6" stroke-width="1" stroke-opacity="0.5"/>
<line x1="842" y1="252.5" x2="867.2" y2="149.2" stroke-width="1.47" stroke-dasharray="2.99 1.54"/>
<line x1="842" y1="252.5" x2="875.8" y2="294.5" stroke-width="1" stroke-opacity="0.5"/>
<line x1="850" y1="408" x2="859" y2="258.6" stroke-width="1.50" stroke-dasharray="4.20 2.17"/>
<line x1="850" y1="408" x2="867.2" y2="149.2" stroke-width="1.50" stroke-dasharray="7.28 3.75"/>
<line x1="850" y1="408" x2="875.8" y2="294.5" stroke-width="1.47" stroke-dasharray="3.27 1.68"/>
<line x1="850" y1="408" x2="884" y2="57" stroke-width="1.49" stroke-dasharray="9.90 5.10"/>
<line x1="859" y1="258.6" x2="867.2" y2="149.2" stroke-width="1.50" stroke-dasharray="3.08 1.59"/>
<line x1="859" y1="258.6" x2="875.8" y2="294.5" stroke-width="1.40" stroke-dasharray="1.78 0.92"/>
<line x1="859" y1="258.6" x2="884" y2="57" stroke-width="1.49" stroke-dasharray="5.71 2.94"/>
<line x1="867.2" y1="149.2" x2="875.8" y2="294.5" stroke-width="1.50" stroke-dasharray="4.09 2.11"/>
<line x1="867.2" y1="149.2" x2="884" y2="57" stroke-width="1.48" stroke-dasharray="2.63 1.36"/>
<line x1="875.8" y1="294.5" x2="884" y2="57" stroke-width="1.50" stroke-dasharray="6.67 3.44"/>
<polyline points="766,343 766,333" stroke-dasharray="4 2"/>
</g>
<g>
<path class="d" d="M110.65 239.5L116.25 234.40L121.85 239.5L116.25 244.60Z"/>
<path class="d" d="M118.90 267.5L124.5 262.40L130.10 267.5L124.5 272.60Z"/>
<path class="d" d="M126.90 267.5L132.5 262.40L138.10 267.5L132.5 272.60Z"/>
<path class="d" d="M135.15 228L140.75 222.90L146.35 228L140.75 233.10Z"/>
<path class="d" d="M143.90 221.25L149.5 216.15L155.10 221.25L149.5 226.35Z"/>
<path class="d" d="M151.90 273.25L157.5 268.15L163.10 273.25L157.5 278.35Z"/>
<path class="d" d="M160.15 344.25L165.75 339.15L171.35 344.25L165.75 349.35Z"/>
<path class="d" d="M168.65 296.25L174.25 291.15L179.85 296.25L174.25 301.35Z"/>
<path class="d" d="M177.40 275L183 269.90L188.60 275L183 280.10Z"/>
<path class="d" d="M185.15 271L190.75 265.90L196.35 271L190.75 276.10Z"/>
<path class="d" d="M193.90 282L199.5 276.90L205.10 282L199.5 287.10Z"/>
<path class="d" d="M201.90 285.5L207.5 280.40L213.10 285.5L207.5 290.60Z"/>
<path class="d" d="M210.40 295.5L216 290.40L221.60 295.5L216 300.60Z"/>
<path class="d" d="M218.65 186.75L224.25 181.65L229.85 186.75L224.25 191.85Z"/>
<path class="d" d="M226.90 272.5L232.5 267.40L238.10 272.5L232.5 277.60Z"/>
<path class="d" d="M235.15 149.5L240.75 144.40L246.35 149.5L240.75 154.60Z"/>
<path class="d" d="M243.65 246.25L249.25 241.15L254.85 246.25L249.25 251.35Z"/>
<path class="d" d="M251.90 359.5L257.5 354.40L263.10 359.5L257.5 364.60Z"/>
<path class="d" d="M260.65 268.75L266.25 263.65L271.85 268.75L266.25 273.85Z"/>
<path class="d" d="M268.90 177.5L274.5 172.40L280.10 177.5L274.5 182.60Z"/>
<path class="d" d="M276.90 293L282.5 287.90L288.10 293L282.5 298.10Z"/>
<path class="d" d="M285.65 390.5L291.25 385.40L296.85 390.5L291.25 395.60Z"/>
<path class="d" d="M293.90 403L299.5 397.90L305.10 403L299.5 408.10Z"/>
<path class="d" d="M301.90 359L307.5 353.90L313.10 359L307.5 364.10Z"/>
<path class="d" d="M310.65 220.25L316.25 215.15L321.85 220.25L316.25 225.35Z"/>
<path class="d" d="M318.90 189.25L324.5 184.15L330.10 189.25L324.5 194.35Z"/>
<path class="d" d="M326.90 221L332.5 215.90L338.10 221L332.5 226.10Z"/>
<path class="d" d="M335.65 255L341.25 249.90L346.85 255L341.25 260.10Z"/>
<path class="d" d="M343.65 280.5L349.25 275.40L354.85 280.5L349.25 285.60Z"/>
<path class="d" d="M351.90 280.5L357.5 275.40L363.10 280.5L357.5 285.60Z"/>
<path class="d" d="M360.65 167.5L366.25 162.40L371.85 167.5L366.25 172.60Z"/>
<path class="d" d="M368.90 133L374.5 127.90L380.10 133L374.5 138.10Z"/>
<path class="d" d="M376.90 157L382.5 151.90L388.10 157L382.5 162.10Z"/>
<path class="d" d="M385.65 280.5L391.25 275.40L396.85 280.5L391.25 285.60Z"/>
<path class="d" d="M393.90 273L399.5 267.90L405.10 273L399.5 278.10Z"/>
<path class="d" d="M402.40 230.5L408 225.40L413.60 230.5L408 235.60Z"/>
<path class="d" d="M410.65 218L416.25 212.90L421.85 218L416.25 223.10Z"/>
<path class="d" d="M418.90 251.25L424.5 246.15L430.10 251.25L424.5 256.35Z"/>
<path class="d" d="M427.65 244.75L433.25 239.65L438.85 244.75L433.25 249.85Z"/>
<path class="d" d="M435.65 293L441.25 287.90L446.85 293L441.25 298.10Z"/>
<path class="d" d="M444.40 120.5L450 115.40L455.60 120.5L450 125.60Z"/>
<path class="d" d="M452.40 273L458 267.90L463.60 273L458 278.10Z"/>
<path class="d" d="M461.15 305.75L466.75 300.65L472.35 305.75L466.75 310.85Z"/>
<path class="d" d="M469.40 313.75L475 308.65L480.60 313.75L475 318.85Z"/>
<path class="d" d="M477.40 322.5L483 317.40L488.60 322.5L483 327.60Z"/>
<path class="d" style="fill:#ffee00" d="M485.65 212.5L491.25 207.40L496.85 212.5L491.25 217.60Z"/>
<path class="d" d="M494.40 190.75L500 185.65L505.60 190.75L500 195.85Z"/>
<path class="d" d="M502.65 243.75L508.25 238.65L513.85 243.75L508.25 248.85Z"/>
<path class="d" d="M511.15 303.25L516.75 298.15L522.35 303.25L516.75 308.35Z"/>
<path class="d" d="M519.40 253L525 247.90L530.60 253L525 258.10Z"/>
<path class="d" d="M527.65 300.75L533.25 295.65L538.85 300.75L533.25 305.85Z"/>
<path class="d" d="M536.15 241.75L541.75 236.65L547.35 241.75L541.75 246.85Z"/>
<path class="d" d="M544.40 234.5L550 229.40L555.60 234.5L550 239.60Z"/>
<path class="d" d="M553.15 355L558.75 349.90L564.35 355L558.75 360.10Z"/>
<path class="d" d="M561.15 342.5L566.75 337.40L572.35 342.5L566.75 347.60Z"/>
<path class="d" d="M569.40 327L575 321.90L580.60 327L575 332.10Z"/>
<path class="d" d="M577.65 200.75L583.25 195.65L588.85 200.75L583.25 205.85Z"/>
<path class="d" d="M586.15 215.75L591.75 210.65L597.35 215.75L591.75 220.85Z"/>
<path class="d" d="M594.90 198.25L600.5 193.15L606.10 198.25L600.5 203.35Z"/>
<path class="d" d="M603.15 302.5L608.75 297.40L614.35 302.5L608.75 307.60Z"/>
<path class="d" d="M611.15 249.25L616.75 244.15L622.35 249.25L616.75 254.35Z"/>
<path class="d" d="M619.40 227.5L625 222.40L630.60 227.5L625 232.60Z"/>
<path class="d" d="M627.65 164.25L633.25 159.15L638.85 164.25L633.25 169.35Z"/>
<path class="d" d="M636.40 150.75L642 145.65L647.60 150.75L642 155.85Z"/>
<path class="d" d="M661.15 293.75L666.75 288.65L672.35 293.75L666.75 298.85Z"/>
<path class="d" d="M669.40 243.5L675 238.40L680.60 243.5L675 248.60Z"/>
<path class="d" d="M678.15 203.75L683.75 198.65L689.35 203.75L683.75 208.85Z"/>
<path class="d" d="M686.40 231L692 225.90L697.60 231L692 236.10Z"/>
<path class="d" d="M694.90 373.25L700.5 368.15L706.10 373.25L700.5 378.35Z"/>
<path class="d" d="M703.15 88.75L708.75 83.65L714.35 88.75L708.75 93.85Z"/>
<path class="d" d="M711.90 93.75L717.5 88.65L723.10 93.75L717.5 98.85Z"/>
<path class="d" d="M719.65 308.75L725.25 303.65L730.85 308.75L725.25 313.85Z"/>
<path class="d" d="M728.15 415.75L733.75 410.65L739.35 415.75L733.75 420.85Z"/>
<path class="d" d="M736.40 338.5L742 333.40L747.60 338.5L742 343.60Z"/>
<path class="d" d="M744.40 307.5L750 302.40L755.60 307.5L750 312.60Z"/>
<path class="d" d="M753.15 284.5L758.75 279.40L764.35 284.5L758.75 289.60Z"/>
<path class="d" d="M761.40 170.75L767 165.65L772.60 170.75L767 175.85Z"/>
<path class="d" d="M769.65 345.5L775.25 340.40L780.85 345.5L775.25 350.60Z"/>
<path class="d" d="M778.15 360.75L783.75 355.65L789.35 360.75L783.75 365.85Z"/>
<path class="d" d="M786.40 540.4L792 535.30L797.60 540.4L792 545.50Z"/>
<path class="d" d="M795.15 402.5L800.75 397.40L806.35 402.5L800.75 407.60Z"/>
<path class="d" d="M803.70 122.4L809.3 117.30L814.90 122.4L809.3 127.50Z"/>
<path class="d" d="M811.40 166.5L817 161.40L822.60 166.5L817 171.60Z"/>
<path class="d" d="M820.10 153.8L825.7 148.70L831.30 153.8L825.7 158.90Z"/>
<path class="d" d="M828.40 269.5L834 264.40L839.60 269.5L834 274.60Z"/>
<path class="d" d="M836.40 252.5L842 247.40L847.60 252.5L842 257.60Z"/>
<path class="d" d="M844.40 408L850 402.90L855.60 408L850 413.10Z"/>
<path class="d" d="M853.40 258.6L859 253.50L864.60 258.6L859 263.70Z"/>
<path class="d" d="M861.60 149.2L867.2 144.10L872.80 149.2L867.2 154.30Z"/>
<path class="d" d="M870.20 294.5L875.8 289.40L881.40 294.5L875.8 299.60Z"/>
<path class="d" d="M878.40 57L884 51.90L889.60 57L884 62.10Z"/>
</g>
<rect x="100" y="225" width="12.80" height="30" fill="#fff"/>
<path class="ax" d="M112.8 4.1H914.85M914.1 3.3499999999999996V559.75M112.8 559.0H914.85"/>
<path class="ax g1" d="M167.00 4.1v14M167.00 559.0v-14"/>
<path class="ax" d="M220.36 4.1v14M220.36 559.0v-14"/>
<path class="ax" d="M273.72 4.1v14M273.72 559.0v-14"/>
<path class="ax" d="M327.07 4.1v14M327.07 559.0v-14"/>
<path class="ax" d="M380.42 4.1v28M380.42 559.0v-28"/>
<path class="ax" d="M433.78 4.1v14M433.78 559.0v-14"/>
<path class="ax" d="M487.13 4.1v14M487.13 559.0v-14"/>
<path class="ax" d="M540.49 4.1v14M540.49 559.0v-14"/>
<path class="ax vg" d="M593.85 4.1v14M593.85 559.0v-14"/>
<path class="ax vg" style="stroke:#eeeeee" d="M647.20 4.1v28M647.20 559.0v-28"/>
<path class="ax" d="M700.55 4.1v14M700.55 559.0v-14"/>
<path class="ax" d="M753.91 4.1v14M753.91 559.0v-14"/>
<path class="ax" d="M807.26 4.1v14M807.26 559.0v-14"/>
<path class="ax" d="M860.62 4.1v14M860.62 559.0v-14"/>
<path class="ax" d="M112.8 32.5H133.2"/>
<path class="ax" d="M893.7 32.5H914.1"/>
<path class="ax" d="M112.8 46H133.2"/>
<path class="ax" d="M893.7 46H914.1"/>
<path class="ax" d="M112.8 74H148.5"/>
<path class="ax" d="M873.2 74H914.1"/>
<path class="ax" d="M112.8 87.5H133.2"/>
<path class="ax" d="M893.7 87.5H914.1"/>
<path class="ax" d="M112.8 115.5H133.2"/>
<path class="ax" d="M893.7 115.5H914.1"/>
<path class="ax" d="M112.8 129H133.2"/>
<path class="ax" d="M893.7 129H914.1"/>
<path class="ax g" d="M112.8 143.5H133.2"/>
<path class="ax" d="M893.7 143.5H914.1"/>
<path class="ax" d="M112.8 157H133.2"/>
<path class="ax" d="M893.7 157H914.1"/>
<path class="ax" d="M112.8 170H133.2"/>
<path class="ax" d="M893.7 170H914.1"/>
<path class="ax g" d="M112.8 184H133.2"/>
<path class="ax" d="M893.7 184H914.1"/>
<path class="ax" d="M112.8 198H133.2"/>
<path class="ax" d="M893.7 198H914.1"/>
<path class="ax" style="stroke:#c8c8c8" d="M112.8 212H153"/>
<path class="ax" style="stroke:#c8c8c8" d="M874 212H914.1"/>
<path class="ax" d="M112.8 226H133.2"/>
<path class="ax" d="M893.7 226H914.1"/>
<path class="ax" d="M112.8 240H133.2"/>
<path class="ax" d="M893.7 240H914.1"/>
<path class="ax" d="M893.7 254H914.1"/>
<path class="ax" d="M112.8 268H133.2"/>
<path class="ax" d="M893.7 268H914.1"/>
<path class="ax" d="M112.8 282H133.2"/>
<path class="ax" d="M893.7 282H914.1"/>
<path class="ax" d="M893.7 296H914.1"/>
<path class="ax" d="M112.8 309.5H133.2"/>
<path class="ax" d="M893.7 309.5H914.1"/>
<path class="ax" d="M112.8 323H133.2"/>
<path class="ax" d="M893.7 323H914.1"/>
<path class="ax g" d="M112.8 338H133.2"/>
<path class="ax g" d="M893.7 338H914.1"/>
<path class="ax" d="M112.8 351.5H153"/>
<path class="ax" d="M873.2 351.5H914.1"/>
<path class="ax" d="M112.8 365H133.2"/>
<path class="ax" d="M893.7 365H914.1"/>
<path class="ax g" d="M112.8 379.5H133.2"/>
<path class="ax g" d="M893.7 379.5H914.1"/>
<path class="ax" d="M112.8 393H133.2"/>
<path class="ax" d="M893.7 393H914.1"/>
<path class="ax g" d="M112.8 406.5H133.2"/>
<path class="ax g" d="M893.7 406.5H914.1"/>
<path class="ax" d="M112.8 421H133.2"/>
<path class="ax" d="M893.7 421H914.1"/>
<path class="ax" d="M112.8 434.75H133.2"/>
<path class="ax" d="M893.7 434.75H914.1"/>
<path class="ax g" d="M112.8 448H133.2"/>
<path class="ax g" d="M893.7 448H914.1"/>
<path class="ax" d="M112.8 462.5H133.2"/>
<path class="ax" d="M893.7 462.5H914.1"/>
<path class="ax" d="M112.8 476H133.2"/>
<path class="ax" d="M893.7 476H914.1"/>
<path class="ax" d="M112.8 504H133.2"/>
<path class="ax" d="M893.7 504H914.1"/>
<path class="ax" d="M112.8 517.5H133.2"/>
<path class="ax" d="M893.7 517.5H914.1"/>
<path class="ax vg" d="M112.8 532.5H133.2"/>
<path class="ax vg" d="M893.7 532.5H914.1"/>
<path class="ax" d="M112.8 545.75H133.2"/>
<path class="ax" d="M893.7 545.75H914.1"/>
<g class="s">
<text x="514.3" y="63.5" font-size="35" text-anchor="middle" textLength="268" lengthAdjust="spacingAndGlyphs">Time-Position Plot</text>
<text x="169.5" y="63.5" font-size="36" font-weight="bold" stroke="none" textLength="42.5" lengthAdjust="spacingAndGlyphs">(a)</text>
<text x="99.6" y="84.6" font-size="31.5" text-anchor="end" textLength="45" lengthAdjust="spacingAndGlyphs">100</text>
<text x="99.6" y="223.79999999999998" font-size="31.5" text-anchor="end" textLength="14.8" lengthAdjust="spacingAndGlyphs">0</text>
<text x="99.6" y="362.40000000000003" font-size="31.5" text-anchor="end" textLength="55" lengthAdjust="spacingAndGlyphs">-100</text>
<text x="99.6" y="500.90000000000003" font-size="31.5" text-anchor="end" textLength="55" lengthAdjust="spacingAndGlyphs">-200</text>
<text x="112" y="589.8" font-size="31.5" text-anchor="middle" textLength="135.8" lengthAdjust="spacingAndGlyphs">2020/01/01</text>
<text x="380" y="589.8" font-size="31.5" text-anchor="middle" textLength="135.8" lengthAdjust="spacingAndGlyphs">2021/01/18</text>
<text x="647" y="589.8" font-size="31.5" text-anchor="middle" textLength="135.8" lengthAdjust="spacingAndGlyphs">2022/02/06</text>
<text x="913.5" y="589.8" font-size="31.5" text-anchor="middle" textLength="135.8" lengthAdjust="spacingAndGlyphs">2023/02/24</text>
<text x="514.3" y="626.5" font-size="29" text-anchor="middle" textLength="202.5" lengthAdjust="spacingAndGlyphs">Acquisition Date</text>
<text transform="translate(25 278.7) rotate(-90)" font-size="28.5" text-anchor="middle" textLength="259" lengthAdjust="spacingAndGlyphs">Relative Position (m)</text>
</g>
</g>
<g id="panel-b">
<g class="n" font-size="21" text-anchor="middle" fill-opacity="0.92">
<text x="1164.5" y="164.25">0</text>
<text x="1172.5" y="196.25">1</text>
<text x="1205.5" y="206.25">2</text>
<text x="1213.25" y="186.00">3</text>
<text x="1221.25" y="263.50">4</text>
<text x="1229.5" y="315.50">5</text>
<text x="1237.5" y="361.25">6</text>
<text x="1245.5" y="412.00">7</text>
<text x="1253.75" y="271.50">8</text>
<text x="1261.75" y="367.25">9</text>
<text x="1270" y="263.00">10</text>
<text x="1278" y="393.00">11</text>
<text x="1286.25" y="398.50">12</text>
<text x="1294.25" y="258.00">13</text>
<text x="1302.5" y="209.75">14</text>
<text x="1310.5" y="311.25">15</text>
<text x="1319" y="256.75">16</text>
<text x="1327" y="263.50">17</text>
<text x="1335" y="252.00">18</text>
<text x="1342.75" y="269.00">19</text>
<text x="1351.25" y="232.25">20</text>
<text x="1358.75" y="299.25">21</text>
<text x="1367.25" y="242.50">22</text>
<text x="1375.5" y="225.25">23</text>
<text x="1383.75" y="255.50">24</text>
<text x="1391.25" y="219.25">25</text>
<text x="1399.25" y="347.00">26</text>
<text x="1407.5" y="388.75">27</text>
<text x="1415.75" y="303.75">28</text>
<text x="1423.25" y="123.00">29</text>
<text x="1432" y="120.50">30</text>
<text x="1440" y="348.00">31</text>
<text x="1448" y="431.75">32</text>
<text x="1455.75" y="460.00">33</text>
<text x="1464.25" y="355.00">34</text>
<text x="1472.5" y="254.25">35</text>
<text x="1480.5" y="289.75">36</text>
<text x="1488.75" y="311.25">37</text>
<text x="1496.75" y="407.50">38</text>
<text x="1504.25" y="325.75">39</text>
<text x="1513.25" y="238.50">40</text>
<text x="1520.75" y="294.00">41</text>
<text x="1529.25" y="300.50">42</text>
<text x="1536.75" y="331.50">43</text>
<text x="1544.5" y="510.80">44</text>
<text x="1553.25" y="311.75">45</text>
<text x="1560.75" y="229.25">46</text>
<text x="1569.25" y="378.75">47</text>
<text x="1577.5" y="336.75">48</text>
<text x="1585.6" y="253.50">49</text>
<text x="1593.75" y="264.00">50</text>
<text x="1601.25" y="191.75">51</text>
<text x="1610" y="283.25">52</text>
<text x="1617.75" y="290.00">53</text>
<text x="1626.25" y="205.50">54</text>
<text x="1634.25" y="234.75">55</text>
<text x="1642" y="182.50">56</text>
<text x="1650.75" y="285.50">57</text>
<text x="1658.75" y="272.25">58</text>
<text x="1674.5" y="324.50">59</text>
<text x="1683" y="175.00">60</text>
<text x="1699" y="320.25">61</text>
<text x="1707" y="293.75">62</text>
<text x="1714.5" y="443.00">63</text>
<text x="1722.5" y="281.50">64</text>
<text x="1731.25" y="281.50">65</text>
<text x="1739.5" y="276.00">66</text>
<text x="1747.5" y="461.00">67</text>
<text x="1755.5" y="224.25">68</text>
<text x="1763.75" y="355.50">69</text>
<text x="1771.75" y="213.75">70</text>
<text x="1779.5" y="203.00">71</text>
<text x="1787.5" y="289.25">72</text>
<text x="1796" y="251.25">73</text>
<text x="1804.25" y="293.00">74</text>
<text x="1812" y="244.25">75</text>
<text x="1820" y="48.00">76</text>
<text x="1836.6" y="327.70">78</text>
<text x="1845" y="283.75">79</text>
<text x="1852.5" y="106.25">80</text>
<text x="1860.5" y="378.00">81</text>
<text x="1868.75" y="136.00">82</text>
<text x="1876.4" y="296.20">83</text>
<text x="1884.3" y="369.20">84</text>
<text x="1892.6" y="278.60">85</text>
<text x="1901.2" y="233.60">86</text>
</g>
<g stroke="#2828a2" stroke-width="1.25" fill="none" stroke-opacity="0.7">
<line x1="1164.5" y1="141.25" x2="1172.5" y2="173.25"/>
<line x1="1172.5" y1="173.25" x2="1205.5" y2="183.25"/>
<line x1="1205.5" y1="183.25" x2="1213.25" y2="163"/>
<line x1="1205.5" y1="183.25" x2="1221.25" y2="240.5"/>
<line x1="1205.5" y1="183.25" x2="1229.5" y2="292.5"/>
<line x1="1205.5" y1="183.25" x2="1237.5" y2="338.25"/>
<line x1="1213.25" y1="163" x2="1221.25" y2="240.5"/>
<line x1="1213.25" y1="163" x2="1229.5" y2="292.5"/>
<line x1="1213.25" y1="163" x2="1237.5" y2="338.25"/>
<line x1="1213.25" y1="163" x2="1245.5" y2="389"/>
<line x1="1221.25" y1="240.5" x2="1229.5" y2="292.5"/>
<line x1="1221.25" y1="240.5" x2="1237.5" y2="338.25"/>
<line x1="1221.25" y1="240.5" x2="1245.5" y2="389"/>
<line x1="1221.25" y1="240.5" x2="1253.75" y2="248.5"/>
<line x1="1229.5" y1="292.5" x2="1237.5" y2="338.25"/>
<line x1="1229.5" y1="292.5" x2="1245.5" y2="389"/>
<line x1="1229.5" y1="292.5" x2="1253.75" y2="248.5"/>
<line x1="1229.5" y1="292.5" x2="1261.75" y2="344.25"/>
<line x1="1237.5" y1="338.25" x2="1245.5" y2="389"/>
<line x1="1237.5" y1="338.25" x2="1253.75" y2="248.5"/>
<line x1="1237.5" y1="338.25" x2="1261.75" y2="344.25"/>
<line x1="1237.5" y1="338.25" x2="1270" y2="240"/>
<line x1="1245.5" y1="389" x2="1253.75" y2="248.5"/>
<line x1="1245.5" y1="389" x2="1261.75" y2="344.25"/>
<line x1="1245.5" y1="389" x2="1270" y2="240"/>
<line x1="1245.5" y1="389" x2="1278" y2="370"/>
<line x1="1253.75" y1="248.5" x2="1261.75" y2="344.25"/>
<line x1="1253.75" y1="248.5" x2="1270" y2="240"/>
<line x1="1253.75" y1="248.5" x2="1278" y2="370"/>
<line x1="1253.75" y1="248.5" x2="1286.25" y2="375.5"/>
<line x1="1261.75" y1="344.25" x2="1270" y2="240"/>
<line x1="1261.75" y1="344.25" x2="1278" y2="370"/>
<line x1="1261.75" y1="344.25" x2="1286.25" y2="375.5"/>
<line x1="1261.75" y1="344.25" x2="1294.25" y2="235"/>
<line x1="1270" y1="240" x2="1278" y2="370"/>
<line x1="1270" y1="240" x2="1286.25" y2="375.5"/>
<line x1="1270" y1="240" x2="1294.25" y2="235"/>
<line x1="1270" y1="240" x2="1302.5" y2="186.75"/>
<line x1="1278" y1="370" x2="1286.25" y2="375.5"/>
<line x1="1278" y1="370" x2="1294.25" y2="235"/>
<line x1="1278" y1="370" x2="1302.5" y2="186.75"/>
<line x1="1278" y1="370" x2="1310.5" y2="288.25"/>
<line x1="1286.25" y1="375.5" x2="1294.25" y2="235"/>
<line x1="1286.25" y1="375.5" x2="1302.5" y2="186.75"/>
<line x1="1286.25" y1="375.5" x2="1310.5" y2="288.25"/>
<line x1="1286.25" y1="375.5" x2="1319" y2="233.75"/>
<line x1="1294.25" y1="235" x2="1302.5" y2="186.75"/>
<line x1="1294.25" y1="235" x2="1310.5" y2="288.25"/>
<line x1="1294.25" y1="235" x2="1319" y2="233.75"/>
<line x1="1294.25" y1="235" x2="1327" y2="240.5"/>
<line x1="1302.5" y1="186.75" x2="1310.5" y2="288.25"/>
<line x1="1302.5" y1="186.75" x2="1319" y2="233.75"/>
<line x1="1302.5" y1="186.75" x2="1327" y2="240.5"/>
<line x1="1302.5" y1="186.75" x2="1335" y2="229"/>
<line x1="1310.5" y1="288.25" x2="1319" y2="233.75"/>
<line x1="1310.5" y1="288.25" x2="1327" y2="240.5"/>
<line x1="1310.5" y1="288.25" x2="1335" y2="229"/>
<line x1="1310.5" y1="288.25" x2="1342.75" y2="246"/>
<line x1="1319" y1="233.75" x2="1327" y2="240.5"/>
<line x1="1319" y1="233.75" x2="1335" y2="229"/>
<line x1="1319" y1="233.75" x2="1342.75" y2="246"/>
<line x1="1319" y1="233.75" x2="1351.25" y2="209.25"/>
<line x1="1327" y1="240.5" x2="1335" y2="229"/>
<line x1="1327" y1="240.5" x2="1342.75" y2="246"/>
<line x1="1327" y1="240.5" x2="1351.25" y2="209.25"/>
<line x1="1327" y1="240.5" x2="1358.75" y2="276.25"/>
<line x1="1335" y1="229" x2="1342.75" y2="246"/>
<line x1="1335" y1="229" x2="1351.25" y2="209.25"/>
<line x1="1335" y1="229" x2="1358.75" y2="276.25"/>
<line x1="1335" y1="229" x2="1367.25" y2="219.5"/>
<line x1="1342.75" y1="246" x2="1351.25" y2="209.25"/>
<line x1="1342.75" y1="246" x2="1358.75" y2="276.25"/>
<line x1="1342.75" y1="246" x2="1367.25" y2="219.5"/>
<line x1="1342.75" y1="246" x2="1375.5" y2="202.25"/>
<line x1="1351.25" y1="209.25" x2="1358.75" y2="276.25"/>
<line x1="1351.25" y1="209.25" x2="1367.25" y2="219.5"/>
<line x1="1351.25" y1="209.25" x2="1375.5" y2="202.25"/>
<line x1="1351.25" y1="209.25" x2="1383.75" y2="232.5"/>
<line x1="1358.75" y1="276.25" x2="1367.25" y2="219.5"/>
<line x1="1358.75" y1="276.25" x2="1375.5" y2="202.25"/>
<line x1="1358.75" y1="276.25" x2="1383.75" y2="232.5"/>
<line x1="1358.75" y1="276.25" x2="1391.25" y2="196.25"/>
<line x1="1367.25" y1="219.5" x2="1375.5" y2="202.25"/>
<line x1="1367.25" y1="219.5" x2="1383.75" y2="232.5"/>
<line x1="1367.25" y1="219.5" x2="1391.25" y2="196.25"/>
<line x1="1367.25" y1="219.5" x2="1399.25" y2="324"/>
<line x1="1375.5" y1="202.25" x2="1383.75" y2="232.5"/>
<line x1="1375.5" y1="202.25" x2="1391.25" y2="196.25"/>
<line x1="1375.5" y1="202.25" x2="1399.25" y2="324"/>
<line x1="1375.5" y1="202.25" x2="1407.5" y2="365.75"/>
<line x1="1383.75" y1="232.5" x2="1391.25" y2="196.25"/>
<line x1="1383.75" y1="232.5" x2="1399.25" y2="324"/>
<line x1="1383.75" y1="232.5" x2="1407.5" y2="365.75"/>
<line x1="1383.75" y1="232.5" x2="1415.75" y2="280.75"/>
<line x1="1391.25" y1="196.25" x2="1399.25" y2="324"/>
<line x1="1391.25" y1="196.25" x2="1407.5" y2="365.75"/>
<line x1="1391.25" y1="196.25" x2="1415.75" y2="280.75"/>
<line x1="1391.25" y1="196.25" x2="1423.25" y2="100"/>
<line x1="1399.25" y1="324" x2="1407.5" y2="365.75"/>
<line x1="1399.25" y1="324" x2="1415.75" y2="280.75"/>
<line x1="1399.25" y1="324" x2="1423.25" y2="100"/>
<line x1="1399.25" y1="324" x2="1432" y2="97.5"/>
<line x1="1407.5" y1="365.75" x2="1415.75" y2="280.75"/>
<line x1="1407.5" y1="365.75" x2="1423.25" y2="100"/>
<line x1="1407.5" y1="365.75" x2="1432" y2="97.5"/>
<line x1="1407.5" y1="365.75" x2="1440" y2="325"/>
<line x1="1415.75" y1="280.75" x2="1423.25" y2="100"/>
<line x1="1415.75" y1="280.75" x2="1432" y2="97.5"/>
<line x1="1415.75" y1="280.75" x2="1440" y2="325"/>
<line x1="1415.75" y1="280.75" x2="1448" y2="408.75"/>
<line x1="1423.25" y1="100" x2="1432" y2="97.5"/>
<line x1="1423.25" y1="100" x2="1440" y2="325"/>
<line x1="1423.25" y1="100" x2="1448" y2="408.75"/>
<line x1="1423.25" y1="100" x2="1455.75" y2="437"/>
<line x1="1432" y1="97.5" x2="1440" y2="325"/>
<line x1="1432" y1="97.5" x2="1448" y2="408.75"/>
<line x1="1432" y1="97.5" x2="1455.75" y2="437"/>
<line x1="1432" y1="97.5" x2="1464.25" y2="332"/>
<line x1="1440" y1="325" x2="1448" y2="408.75"/>
<line x1="1440" y1="325" x2="1455.75" y2="437"/>
<line x1="1440" y1="325" x2="1464.25" y2="332"/>
<line x1="1440" y1="325" x2="1472.5" y2="231.25"/>
<line x1="1448" y1="408.75" x2="1455.75" y2="437"/>
<line x1="1448" y1="408.75" x2="1464.25" y2="332"/>
<line x1="1448" y1="408.75" x2="1472.5" y2="231.25"/>
<line x1="1448" y1="408.75" x2="1480.5" y2="266.75"/>
<line x1="1455.75" y1="437" x2="1464.25" y2="332"/>
<line x1="1455.75" y1="437" x2="1472.5" y2="231.25"/>
<line x1="1455.75" y1="437" x2="1480.5" y2="266.75"/>
<line x1="1455.75" y1="437" x2="1488.75" y2="288.25"/>
<line x1="1464.25" y1="332" x2="1472.5" y2="231.25"/>
<line x1="1464.25" y1="332" x2="1480.5" y2="266.75"/>
<line x1="1464.25" y1="332" x2="1488.75" y2="288.25"/>
<line x1="1464.25" y1="332" x2="1496.75" y2="384.5"/>
<line x1="1472.5" y1="231.25" x2="1480.5" y2="266.75"/>
<line x1="1472.5" y1="231.25" x2="1488.75" y2="288.25"/>
<line x1="1472.5" y1="231.25" x2="1496.75" y2="384.5"/>
<line x1="1472.5" y1="231.25" x2="1504.25" y2="302.75"/>
<line x1="1480.5" y1="266.75" x2="1488.75" y2="288.25"/>
<line x1="1480.5" y1="266.75" x2="1496.75" y2="384.5"/>
<line x1="1480.5" y1="266.75" x2="1504.25" y2="302.75"/>
<line x1="1480.5" y1="266.75" x2="1513.25" y2="215.5"/>
<line x1="1488.75" y1="288.25" x2="1496.75" y2="384.5"/>
<line x1="1488.75" y1="288.25" x2="1504.25" y2="302.75"/>
<line x1="1488.75" y1="288.25" x2="1513.25" y2="215.5"/>
<line x1="1488.75" y1="288.25" x2="1520.75" y2="271"/>
<line x1="1496.75" y1="384.5" x2="1504.25" y2="302.75"/>
<line x1="1496.75" y1="384.5" x2="1513.25" y2="215.5"/>
<line x1="1496.75" y1="384.5" x2="1520.75" y2="271"/>
<line x1="1496.75" y1="384.5" x2="1529.25" y2="277.5"/>
<line x1="1504.25" y1="302.75" x2="1513.25" y2="215.5"/>
<line x1="1504.25" y1="302.75" x2="1520.75" y2="271"/>
<line x1="1504.25" y1="302.75" x2="1529.25" y2="277.5"/>
<line x1="1504.25" y1="302.75" x2="1536.75" y2="308.5"/>
<line x1="1513.25" y1="215.5" x2="1520.75" y2="271"/>
<line x1="1513.25" y1="215.5" x2="1529.25" y2="277.5"/>
<line x1="1513.25" y1="215.5" x2="1536.75" y2="308.5"/>
<line x1="1513.25" y1="215.5" x2="1544.5" y2="487.8"/>
<line x1="1520.75" y1="271" x2="1529.25" y2="277.5"/>
<line x1="1520.75" y1="271" x2="1536.75" y2="308.5"/>
<line x1="1520.75" y1="271" x2="1544.5" y2="487.8"/>
<line x1="1520.75" y1="271" x2="1553.25" y2="288.75"/>
<line x1="1529.25" y1="277.5" x2="1536.75" y2="308.5"/>
<line x1="1529.25" y1="277.5" x2="1544.5" y2="487.8"/>
<line x1="1529.25" y1="277.5" x2="1553.25" y2="288.75"/>
<line x1="1529.25" y1="277.5" x2="1560.75" y2="206.25"/>
<line x1="1536.75" y1="308.5" x2="1544.5" y2="487.8"/>
<line x1="1536.75" y1="308.5" x2="1553.25" y2="288.75"/>
<line x1="1536.75" y1="308.5" x2="1560.75" y2="206.25"/>
<line x1="1536.75" y1="308.5" x2="1569.25" y2="355.75"/>
<line x1="1544.5" y1="487.8" x2="1553.25" y2="288.75"/>
<line x1="1544.5" y1="487.8" x2="1560.75" y2="206.25"/>
<line x1="1544.5" y1="487.8" x2="1569.25" y2="355.75"/>
<line x1="1544.5" y1="487.8" x2="1577.5" y2="313.75"/>
<line x1="1553.25" y1="288.75" x2="1560.75" y2="206.25"/>
<line x1="1553.25" y1="288.75" x2="1569.25" y2="355.75"/>
<line x1="1553.25" y1="288.75" x2="1577.5" y2="313.75"/>
<line x1="1553.25" y1="288.75" x2="1585.6" y2="230.5"/>
<line x1="1560.75" y1="206.25" x2="1569.25" y2="355.75"/>
<line x1="1560.75" y1="206.25" x2="1577.5" y2="313.75"/>
<line x1="1560.75" y1="206.25" x2="1585.6" y2="230.5"/>
<line x1="1560.75" y1="206.25" x2="1593.75" y2="241"/>
<line x1="1569.25" y1="355.75" x2="1577.5" y2="313.75"/>
<line x1="1569.25" y1="355.75" x2="1585.6" y2="230.5"/>
<line x1="1569.25" y1="355.75" x2="1593.75" y2="241"/>
<line x1="1569.25" y1="355.75" x2="1601.25" y2="168.75"/>
<line x1="1577.5" y1="313.75" x2="1585.6" y2="230.5"/>
<line x1="1577.5" y1="313.75" x2="1593.75" y2="241"/>
<line x1="1577.5" y1="313.75" x2="1601.25" y2="168.75"/>
<line x1="1577.5" y1="313.75" x2="1610" y2="260.25"/>
<line x1="1585.6" y1="230.5" x2="1593.75" y2="241"/>
<line x1="1585.6" y1="230.5" x2="1601.25" y2="168.75"/>
<line x1="1585.6" y1="230.5" x2="1610" y2="260.25"/>
<line x1="1585.6" y1="230.5" x2="1617.75" y2="267"/>
<line x1="1593.75" y1="241" x2="1601.25" y2="168.75"/>
<line x1="1593.75" y1="241" x2="1610" y2="260.25"/>
<line x1="1593.75" y1="241" x2="1617.75" y2="267"/>
<line x1="1593.75" y1="241" x2="1626.25" y2="182.5"/>
<line x1="1601.25" y1="168.75" x2="1610" y2="260.25"/>
<line x1="1601.25" y1="168.75" x2="1617.75" y2="267"/>
<line x1="1601.25" y1="168.75" x2="1626.25" y2="182.5"/>
<line x1="1601.25" y1="168.75" x2="1634.25" y2="211.75"/>
<line x1="1610" y1="260.25" x2="1617.75" y2="267"/>
<line x1="1610" y1="260.25" x2="1626.25" y2="182.5"/>
<line x1="1610" y1="260.25" x2="1634.25" y2="211.75"/>
<line x1="1610" y1="260.25" x2="1642" y2="159.5"/>
<line x1="1617.75" y1="267" x2="1626.25" y2="182.5"/>
<line x1="1617.75" y1="267" x2="1634.25" y2="211.75"/>
<line x1="1617.75" y1="267" x2="1642" y2="159.5"/>
<line x1="1617.75" y1="267" x2="1650.75" y2="262.5"/>
<line x1="1626.25" y1="182.5" x2="1634.25" y2="211.75"/>
<line x1="1626.25" y1="182.5" x2="1642" y2="159.5"/>
<line x1="1626.25" y1="182.5" x2="1650.75" y2="262.5"/>
<line x1="1626.25" y1="182.5" x2="1658.75" y2="249.25"/>
<line x1="1634.25" y1="211.75" x2="1642" y2="159.5"/>
<line x1="1634.25" y1="211.75" x2="1650.75" y2="262.5"/>
<line x1="1634.25" y1="211.75" x2="1658.75" y2="249.25"/>
<line x1="1642" y1="159.5" x2="1650.75" y2="262.5"/>
<line x1="1642" y1="159.5" x2="1658.75" y2="249.25"/>
<line x1="1642" y1="159.5" x2="1674.5" y2="301.5"/>
<line x1="1650.75" y1="262.5" x2="1658.75" y2="249.25"/>
<line x1="1650.75" y1="262.5" x2="1674.5" y2="301.5"/>
<line x1="1650.75" y1="262.5" x2="1683" y2="152"/>
<line x1="1658.75" y1="249.25" x2="1674.5" y2="301.5"/>
<line x1="1658.75" y1="249.25" x2="1683" y2="152"/>
<line x1="1674.5" y1="301.5" x2="1683" y2="152"/>
<line x1="1674.5" y1="301.5" x2="1699" y2="297.25"/>
<line x1="1674.5" y1="301.5" x2="1707" y2="270.75"/>
<line x1="1683" y1="152" x2="1699" y2="297.25"/>
<line x1="1683" y1="152" x2="1707" y2="270.75"/>
<line x1="1683" y1="152" x2="1714.5" y2="420"/>
<line x1="1699" y1="297.25" x2="1707" y2="270.75"/>
<line x1="1699" y1="297.25" x2="1714.5" y2="420"/>
<line x1="1699" y1="297.25" x2="1722.5" y2="258.5"/>
<line x1="1699" y1="297.25" x2="1731.25" y2="258.5"/>
<line x1="1707" y1="270.75" x2="1714.5" y2="420"/>
<line x1="1707" y1="270.75" x2="1722.5" y2="258.5"/>
<line x1="1707" y1="270.75" x2="1731.25" y2="258.5"/>
<line x1="1707" y1="270.75" x2="1739.5" y2="253"/>
<line x1="1714.5" y1="420" x2="1722.5" y2="258.5"/>
<line x1="1714.5" y1="420" x2="1731.25" y2="258.5"/>
<line x1="1714.5" y1="420" x2="1739.5" y2="253"/>
<line x1="1714.5" y1="420" x2="1747.5" y2="438"/>
<line x1="1722.5" y1="258.5" x2="1731.25" y2="258.5"/>
<line x1="1722.5" y1="258.5" x2="1739.5" y2="253"/>
<line x1="1722.5" y1="258.5" x2="1747.5" y2="438"/>
<line x1="1722.5" y1="258.5" x2="1755.5" y2="201.25"/>
<line x1="1731.25" y1="258.5" x2="1739.5" y2="253"/>
<line x1="1731.25" y1="258.5" x2="1747.5" y2="438"/>
<line x1="1731.25" y1="258.5" x2="1755.5" y2="201.25"/>
<line x1="1731.25" y1="258.5" x2="1763.75" y2="332.5"/>
<line x1="1739.5" y1="253" x2="1747.5" y2="438"/>
<line x1="1739.5" y1="253" x2="1755.5" y2="201.25"/>
<line x1="1739.5" y1="253" x2="1763.75" y2="332.5"/>
<line x1="1739.5" y1="253" x2="1771.75" y2="190.75"/>
<line x1="1747.5" y1="438" x2="1755.5" y2="201.25"/>
<line x1="1747.5" y1="438" x2="1763.75" y2="332.5"/>
<line x1="1747.5" y1="438" x2="1771.75" y2="190.75"/>
<line x1="1747.5" y1="438" x2="1779.5" y2="180"/>
<line x1="1755.5" y1="201.25" x2="1763.75" y2="332.5"/>
<line x1="1755.5" y1="201.25" x2="1771.75" y2="190.75"/>
<line x1="1755.5" y1="201.25" x2="1779.5" y2="180"/>
<line x1="1755.5" y1="201.25" x2="1787.5" y2="266.25"/>
<line x1="1763.75" y1="332.5" x2="1771.75" y2="190.75"/>
<line x1="1763.75" y1="332.5" x2="1779.5" y2="180"/>
<line x1="1763.75" y1="332.5" x2="1787.5" y2="266.25"/>
<line x1="1763.75" y1="332.5" x2="1796" y2="228.25"/>
<line x1="1771.75" y1="190.75" x2="1779.5" y2="180"/>
<line x1="1771.75" y1="190.75" x2="1787.5" y2="266.25"/>
<line x1="1771.75" y1="190.75" x2="1796" y2="228.25"/>
<line x1="1771.75" y1="190.75" x2="1804.25" y2="270"/>
<line x1="1779.5" y1="180" x2="1787.5" y2="266.25"/>
<line x1="1779.5" y1="180" x2="1796" y2="228.25"/>
<line x1="1779.5" y1="180" x2="1804.25" y2="270"/>
<line x1="1779.5" y1="180" x2="1812" y2="221.25"/>
<line x1="1787.5" y1="266.25" x2="1796" y2="228.25"/>
<line x1="1787.5" y1="266.25" x2="1804.25" y2="270"/>
<line x1="1787.5" y1="266.25" x2="1812" y2="221.25"/>
<line x1="1787.5" y1="266.25" x2="1820" y2="25"/>
<line x1="1796" y1="228.25" x2="1804.25" y2="270"/>
<line x1="1796" y1="228.25" x2="1812" y2="221.25"/>
<line x1="1796" y1="228.25" x2="1820" y2="25"/>
<line x1="1804.25" y1="270" x2="1812" y2="221.25"/>
<line x1="1804.25" y1="270" x2="1820" y2="25"/>
<line x1="1804.25" y1="270" x2="1836.6" y2="304.7"/>
<line x1="1812" y1="221.25" x2="1820" y2="25"/>
<line x1="1812" y1="221.25" x2="1836.6" y2="304.7"/>
<line x1="1812" y1="221.25" x2="1845" y2="260.75"/>
<line x1="1820" y1="25" x2="1836.6" y2="304.7"/>
<line x1="1820" y1="25" x2="1845" y2="260.75"/>
<line x1="1820" y1="25" x2="1852.5" y2="83.25"/>
<line x1="1836.6" y1="304.7" x2="1845" y2="260.75"/>
<line x1="1836.6" y1="304.7" x2="1852.5" y2="83.25"/>
<line x1="1836.6" y1="304.7" x2="1860.5" y2="355"/>
<line x1="1836.6" y1="304.7" x2="1868.75" y2="113"/>
<line x1="1845" y1="260.75" x2="1852.5" y2="83.25"/>
<line x1="1845" y1="260.75" x2="1860.5" y2="355"/>
<line x1="1845" y1="260.75" x2="1868.75" y2="113"/>
<line x1="1845" y1="260.75" x2="1876.4" y2="273.2"/>
<line x1="1852.5" y1="83.25" x2="1860.5" y2="355"/>
<line x1="1852.5" y1="83.25" x2="1868.75" y2="113"/>
<line x1="1852.5" y1="83.25" x2="1876.4" y2="273.2"/>
<line x1="1852.5" y1="83.25" x2="1884.3" y2="346.2"/>
<line x1="1860.5" y1="355" x2="1868.75" y2="113"/>
<line x1="1860.5" y1="355" x2="1876.4" y2="273.2"/>
<line x1="1860.5" y1="355" x2="1884.3" y2="346.2"/>
<line x1="1860.5" y1="355" x2="1892.6" y2="255.6"/>
<line x1="1868.75" y1="113" x2="1876.4" y2="273.2"/>
<line x1="1868.75" y1="113" x2="1884.3" y2="346.2"/>
<line x1="1868.75" y1="113" x2="1892.6" y2="255.6"/>
<line x1="1868.75" y1="113" x2="1901.2" y2="210.6"/>
<line x1="1876.4" y1="273.2" x2="1884.3" y2="346.2"/>
<line x1="1876.4" y1="273.2" x2="1892.6" y2="255.6"/>
<line x1="1876.4" y1="273.2" x2="1901.2" y2="210.6"/>
<line x1="1884.3" y1="346.2" x2="1892.6" y2="255.6"/>
<line x1="1884.3" y1="346.2" x2="1901.2" y2="210.6"/>
<line x1="1892.6" y1="255.6" x2="1901.2" y2="210.6"/>
</g>
<g>
<path class="d" d="M1159.50 141.25L1164.5 136.35L1169.50 141.25L1164.5 146.15Z"/>
<path class="d" d="M1167.50 173.25L1172.5 168.35L1177.50 173.25L1172.5 178.15Z"/>
<path class="d" d="M1200.50 183.25L1205.5 178.35L1210.50 183.25L1205.5 188.15Z"/>
<path class="d" d="M1208.25 163L1213.25 158.10L1218.25 163L1213.25 167.90Z"/>
<path class="d" d="M1216.25 240.5L1221.25 235.60L1226.25 240.5L1221.25 245.40Z"/>
<path class="d" d="M1224.50 292.5L1229.5 287.60L1234.50 292.5L1229.5 297.40Z"/>
<path class="d" d="M1232.50 338.25L1237.5 333.35L1242.50 338.25L1237.5 343.15Z"/>
<path class="d" d="M1240.50 389L1245.5 384.10L1250.50 389L1245.5 393.90Z"/>
<path class="d" d="M1248.75 248.5L1253.75 243.60L1258.75 248.5L1253.75 253.40Z"/>
<path class="d" d="M1256.75 344.25L1261.75 339.35L1266.75 344.25L1261.75 349.15Z"/>
<path class="d" d="M1265.00 240L1270 235.10L1275.00 240L1270 244.90Z"/>
<path class="d" d="M1273.00 370L1278 365.10L1283.00 370L1278 374.90Z"/>
<path class="d" d="M1281.25 375.5L1286.25 370.60L1291.25 375.5L1286.25 380.40Z"/>
<path class="d" d="M1289.25 235L1294.25 230.10L1299.25 235L1294.25 239.90Z"/>
<path class="d" d="M1297.50 186.75L1302.5 181.85L1307.50 186.75L1302.5 191.65Z"/>
<path class="d" d="M1305.50 288.25L1310.5 283.35L1315.50 288.25L1310.5 293.15Z"/>
<path class="d" d="M1314.00 233.75L1319 228.85L1324.00 233.75L1319 238.65Z"/>
<path class="d" d="M1322.00 240.5L1327 235.60L1332.00 240.5L1327 245.40Z"/>
<path class="d" d="M1330.00 229L1335 224.10L1340.00 229L1335 233.90Z"/>
<path class="d" d="M1337.75 246L1342.75 241.10L1347.75 246L1342.75 250.90Z"/>
<path class="d" d="M1346.25 209.25L1351.25 204.35L1356.25 209.25L1351.25 214.15Z"/>
<path class="d" d="M1353.75 276.25L1358.75 271.35L1363.75 276.25L1358.75 281.15Z"/>
<path class="d" d="M1362.25 219.5L1367.25 214.60L1372.25 219.5L1367.25 224.40Z"/>
<path class="d" d="M1370.50 202.25L1375.5 197.35L1380.50 202.25L1375.5 207.15Z"/>
<path class="d" d="M1378.75 232.5L1383.75 227.60L1388.75 232.5L1383.75 237.40Z"/>
<path class="d" d="M1386.25 196.25L1391.25 191.35L1396.25 196.25L1391.25 201.15Z"/>
<path class="d" d="M1394.25 324L1399.25 319.10L1404.25 324L1399.25 328.90Z"/>
<path class="d" d="M1402.50 365.75L1407.5 360.85L1412.50 365.75L1407.5 370.65Z"/>
<path class="d" d="M1410.75 280.75L1415.75 275.85L1420.75 280.75L1415.75 285.65Z"/>
<path class="d" d="M1418.25 100L1423.25 95.10L1428.25 100L1423.25 104.90Z"/>
<path class="d" d="M1427.00 97.5L1432 92.60L1437.00 97.5L1432 102.40Z"/>
<path class="d" d="M1435.00 325L1440 320.10L1445.00 325L1440 329.90Z"/>
<path class="d" d="M1443.00 408.75L1448 403.85L1453.00 408.75L1448 413.65Z"/>
<path class="d" d="M1450.75 437L1455.75 432.10L1460.75 437L1455.75 441.90Z"/>
<path class="d" d="M1459.25 332L1464.25 327.10L1469.25 332L1464.25 336.90Z"/>
<path class="d" d="M1467.50 231.25L1472.5 226.35L1477.50 231.25L1472.5 236.15Z"/>
<path class="d" d="M1475.50 266.75L1480.5 261.85L1485.50 266.75L1480.5 271.65Z"/>
<path class="d" d="M1483.75 288.25L1488.75 283.35L1493.75 288.25L1488.75 293.15Z"/>
<path class="d" d="M1491.75 384.5L1496.75 379.60L1501.75 384.5L1496.75 389.40Z"/>
<path class="d" d="M1499.25 302.75L1504.25 297.85L1509.25 302.75L1504.25 307.65Z"/>
<path class="d" d="M1508.25 215.5L1513.25 210.60L1518.25 215.5L1513.25 220.40Z"/>
<path class="d" d="M1515.75 271L1520.75 266.10L1525.75 271L1520.75 275.90Z"/>
<path class="d" d="M1524.25 277.5L1529.25 272.60L1534.25 277.5L1529.25 282.40Z"/>
<path class="d" style="fill:#ffee00" d="M1531.75 308.5L1536.75 303.60L1541.75 308.5L1536.75 313.40Z"/>
<path class="d" d="M1539.50 487.8L1544.5 482.90L1549.50 487.8L1544.5 492.70Z"/>
<path class="d" d="M1548.25 288.75L1553.25 283.85L1558.25 288.75L1553.25 293.65Z"/>
<path class="d" d="M1555.75 206.25L1560.75 201.35L1565.75 206.25L1560.75 211.15Z"/>
<path class="d" d="M1564.25 355.75L1569.25 350.85L1574.25 355.75L1569.25 360.65Z"/>
<path class="d" d="M1572.50 313.75L1577.5 308.85L1582.50 313.75L1577.5 318.65Z"/>
<path class="d" d="M1580.60 230.5L1585.6 225.60L1590.60 230.5L1585.6 235.40Z"/>
<path class="d" d="M1588.75 241L1593.75 236.10L1598.75 241L1593.75 245.90Z"/>
<path class="d" d="M1596.25 168.75L1601.25 163.85L1606.25 168.75L1601.25 173.65Z"/>
<path class="d" d="M1605.00 260.25L1610 255.35L1615.00 260.25L1610 265.15Z"/>
<path class="d" d="M1612.75 267L1617.75 262.10L1622.75 267L1617.75 271.90Z"/>
<path class="d" d="M1621.25 182.5L1626.25 177.60L1631.25 182.5L1626.25 187.40Z"/>
<path class="d" d="M1629.25 211.75L1634.25 206.85L1639.25 211.75L1634.25 216.65Z"/>
<path class="d" d="M1637.00 159.5L1642 154.60L1647.00 159.5L1642 164.40Z"/>
<path class="d" d="M1645.75 262.5L1650.75 257.60L1655.75 262.5L1650.75 267.40Z"/>
<path class="d" d="M1653.75 249.25L1658.75 244.35L1663.75 249.25L1658.75 254.15Z"/>
<path class="d" d="M1669.50 301.5L1674.5 296.60L1679.50 301.5L1674.5 306.40Z"/>
<path class="d" d="M1678.00 152L1683 147.10L1688.00 152L1683 156.90Z"/>
<path class="d" d="M1694.00 297.25L1699 292.35L1704.00 297.25L1699 302.15Z"/>
<path class="d" d="M1702.00 270.75L1707 265.85L1712.00 270.75L1707 275.65Z"/>
<path class="d" d="M1709.50 420L1714.5 415.10L1719.50 420L1714.5 424.90Z"/>
<path class="d" d="M1717.50 258.5L1722.5 253.60L1727.50 258.5L1722.5 263.40Z"/>
<path class="d" d="M1726.25 258.5L1731.25 253.60L1736.25 258.5L1731.25 263.40Z"/>
<path class="d" d="M1734.50 253L1739.5 248.10L1744.50 253L1739.5 257.90Z"/>
<path class="d" d="M1742.50 438L1747.5 433.10L1752.50 438L1747.5 442.90Z"/>
<path class="d" d="M1750.50 201.25L1755.5 196.35L1760.50 201.25L1755.5 206.15Z"/>
<path class="d" d="M1758.75 332.5L1763.75 327.60L1768.75 332.5L1763.75 337.40Z"/>
<path class="d" d="M1766.75 190.75L1771.75 185.85L1776.75 190.75L1771.75 195.65Z"/>
<path class="d" d="M1774.50 180L1779.5 175.10L1784.50 180L1779.5 184.90Z"/>
<path class="d" d="M1782.50 266.25L1787.5 261.35L1792.50 266.25L1787.5 271.15Z"/>
<path class="d" d="M1791.00 228.25L1796 223.35L1801.00 228.25L1796 233.15Z"/>
<path class="d" d="M1799.25 270L1804.25 265.10L1809.25 270L1804.25 274.90Z"/>
<path class="d" d="M1807.00 221.25L1812 216.35L1817.00 221.25L1812 226.15Z"/>
<path class="d" d="M1815.00 25L1820 20.10L1825.00 25L1820 29.90Z"/>
<path class="d" d="M1831.60 304.7L1836.6 299.80L1841.60 304.7L1836.6 309.60Z"/>
<path class="d" d="M1840.00 260.75L1845 255.85L1850.00 260.75L1845 265.65Z"/>
<path class="d" d="M1847.50 83.25L1852.5 78.35L1857.50 83.25L1852.5 88.15Z"/>
<path class="d" d="M1855.50 355L1860.5 350.10L1865.50 355L1860.5 359.90Z"/>
<path class="d" d="M1863.75 113L1868.75 108.10L1873.75 113L1868.75 117.90Z"/>
<path class="d" d="M1871.40 273.2L1876.4 268.30L1881.40 273.2L1876.4 278.10Z"/>
<path class="d" d="M1879.30 346.2L1884.3 341.30L1889.30 346.2L1884.3 351.10Z"/>
<path class="d" d="M1887.60 255.6L1892.6 250.70L1897.60 255.6L1892.6 260.50Z"/>
<path class="d" d="M1896.20 210.6L1901.2 205.70L1906.20 210.6L1901.2 215.50Z"/>
</g>
<path class="ax" style="stroke-width:1.95" d="M1156.9 15.1H1933.5V558.4H1156.9Z"/>
<path class="ax" d="M1208.67 15.1v14M1208.67 558.4v-14"/>
<path class="ax" d="M1260.45 15.1v14M1260.45 558.4v-14"/>
<path class="ax" d="M1312.22 15.1v14M1312.22 558.4v-14"/>
<path class="ax" d="M1363.99 15.1v14M1363.99 558.4v-14"/>
<path class="ax" d="M1415.77 15.1v28M1415.77 558.4v-28"/>
<path class="ax" d="M1467.54 15.1v14M1467.54 558.4v-14"/>
<path class="ax" d="M1519.31 15.1v14M1519.31 558.4v-14"/>
<path class="ax" d="M1571.09 15.1v14M1571.09 558.4v-14"/>
<path class="ax" d="M1622.86 15.1v14M1622.86 558.4v-14"/>
<path class="ax" d="M1674.63 15.1v28M1674.63 558.4v-28"/>
<path class="ax" d="M1726.41 15.1v14M1726.41 558.4v-14"/>
<path class="ax" d="M1778.18 15.1v14M1778.18 558.4v-14"/>
<path class="ax" d="M1829.95 15.1v14M1829.95 558.4v-14"/>
<path class="ax" d="M1881.73 15.1v14M1881.73 558.4v-14"/>
<path class="ax" d="M1156.9 29.78h20.3M1933.5 29.78h-20.3"/>
<path class="ax" d="M1156.9 44.47h20.3M1933.5 44.47h-20.3"/>
<path class="ax" d="M1156.9 59.15h20.3M1933.5 59.15h-20.3"/>
<path class="ax" d="M1156.9 73.84h20.3M1933.5 73.84h-20.3"/>
<path class="ax" d="M1156.9 88.52h20.3M1933.5 88.52h-20.3"/>
<path class="ax" d="M1156.9 103.20h20.3M1933.5 103.20h-20.3"/>
<path class="ax" d="M1156.9 117.89h20.3M1933.5 117.89h-20.3"/>
<path class="ax" d="M1156.9 132.57h20.3M1933.5 132.57h-20.3"/>
<path class="ax" d="M1156.9 147.25h20.3M1933.5 147.25h-20.3"/>
<path class="ax" d="M1156.9 161.94h40.5M1933.5 161.94h-40.5"/>
<path class="ax" d="M1156.9 176.62h20.3M1933.5 176.62h-20.3"/>
<path class="ax" d="M1156.9 191.31h20.3M1933.5 191.31h-20.3"/>
<path class="ax" d="M1156.9 205.99h20.3M1933.5 205.99h-20.3"/>
<path class="ax" d="M1156.9 220.67h20.3M1933.5 220.67h-20.3"/>
<path class="ax" d="M1156.9 235.36h20.3M1933.5 235.36h-20.3"/>
<path class="ax" d="M1156.9 250.04h20.3M1933.5 250.04h-20.3"/>
<path class="ax" d="M1156.9 264.72h20.3M1933.5 264.72h-20.3"/>
<path class="ax" d="M1156.9 279.41h20.3M1933.5 279.41h-20.3"/>
<path class="ax" d="M1156.9 294.09h20.3M1933.5 294.09h-20.3"/>
<path class="ax" d="M1156.9 308.78h40.5M1933.5 308.78h-40.5"/>
<path class="ax" d="M1156.9 323.46h20.3M1933.5 323.46h-20.3"/>
<path class="ax" d="M1156.9 338.14h20.3M1933.5 338.14h-20.3"/>
<path class="ax" d="M1156.9 352.83h20.3M1933.5 352.83h-20.3"/>
<path class="ax" d="M1156.9 367.51h20.3M1933.5 367.51h-20.3"/>
<path class="ax" d="M1156.9 382.19h20.3M1933.5 382.19h-20.3"/>
<path class="ax" d="M1156.9 396.88h20.3M1933.5 396.88h-20.3"/>
<path class="ax" d="M1156.9 411.56h20.3M1933.5 411.56h-20.3"/>
<path class="ax" d="M1156.9 426.25h20.3M1933.5 426.25h-20.3"/>
<path class="ax" d="M1156.9 440.93h20.3M1933.5 440.93h-20.3"/>
<path class="ax" d="M1156.9 455.61h40.5M1933.5 455.61h-40.5"/>
<path class="ax" d="M1156.9 470.30h20.3M1933.5 470.30h-20.3"/>
<path class="ax" d="M1156.9 484.98h20.3M1933.5 484.98h-20.3"/>
<path class="ax" d="M1156.9 499.66h20.3M1933.5 499.66h-20.3"/>
<path class="ax" d="M1156.9 514.35h20.3M1933.5 514.35h-20.3"/>
<path class="ax" d="M1156.9 529.03h20.3M1933.5 529.03h-20.3"/>
<path class="ax" d="M1156.9 543.72h20.3M1933.5 543.72h-20.3"/>
<g class="s">
<text x="1554.6" y="77.9" font-size="37" text-anchor="middle" textLength="281" lengthAdjust="spacingAndGlyphs">Time-Position Plot</text>
<text x="1142.8" y="26.200000000000003" font-size="31" text-anchor="end" textLength="47.6" lengthAdjust="spacingAndGlyphs">200</text>
<text x="1142.8" y="173.0" font-size="31" text-anchor="end" textLength="47.6" lengthAdjust="spacingAndGlyphs">100</text>
<text x="1142.8" y="319.09999999999997" font-size="31" text-anchor="end" textLength="15.8" lengthAdjust="spacingAndGlyphs">0</text>
<text x="1142.8" y="466.0" font-size="31" text-anchor="end" textLength="58.5" lengthAdjust="spacingAndGlyphs">-100</text>
<text x="1155" y="590.4" font-size="31.5" text-anchor="middle" textLength="145.5" lengthAdjust="spacingAndGlyphs">2020/01/01</text>
<text x="1415.7" y="590.4" font-size="31.5" text-anchor="middle" textLength="145.5" lengthAdjust="spacingAndGlyphs">2021/01/18</text>
<text x="1673.7" y="590.4" font-size="31.5" text-anchor="middle" textLength="145.5" lengthAdjust="spacingAndGlyphs">2022/02/06</text>
<text x="1932.8" y="590.4" font-size="31.5" text-anchor="middle" textLength="145.5" lengthAdjust="spacingAndGlyphs">2023/02/24</text>
<text x="1545.2" y="629.6" font-size="31" text-anchor="middle" textLength="213" lengthAdjust="spacingAndGlyphs">Acquisition Date</text>
<text transform="translate(1061.5 288.75) rotate(-90)" font-size="31.5" text-anchor="middle" textLength="276" lengthAdjust="spacingAndGlyphs">Relative Position (m)</text>
</g>
<text x="1206" y="72.3" font-size="31" stroke="#000" stroke-width="1.0" stroke-linejoin="round" textLength="41" lengthAdjust="spacingAndGlyphs" style="font-family:'Liberation Sans',Arial,sans-serif">(b)</text>
</g>
</svg></body></html>
